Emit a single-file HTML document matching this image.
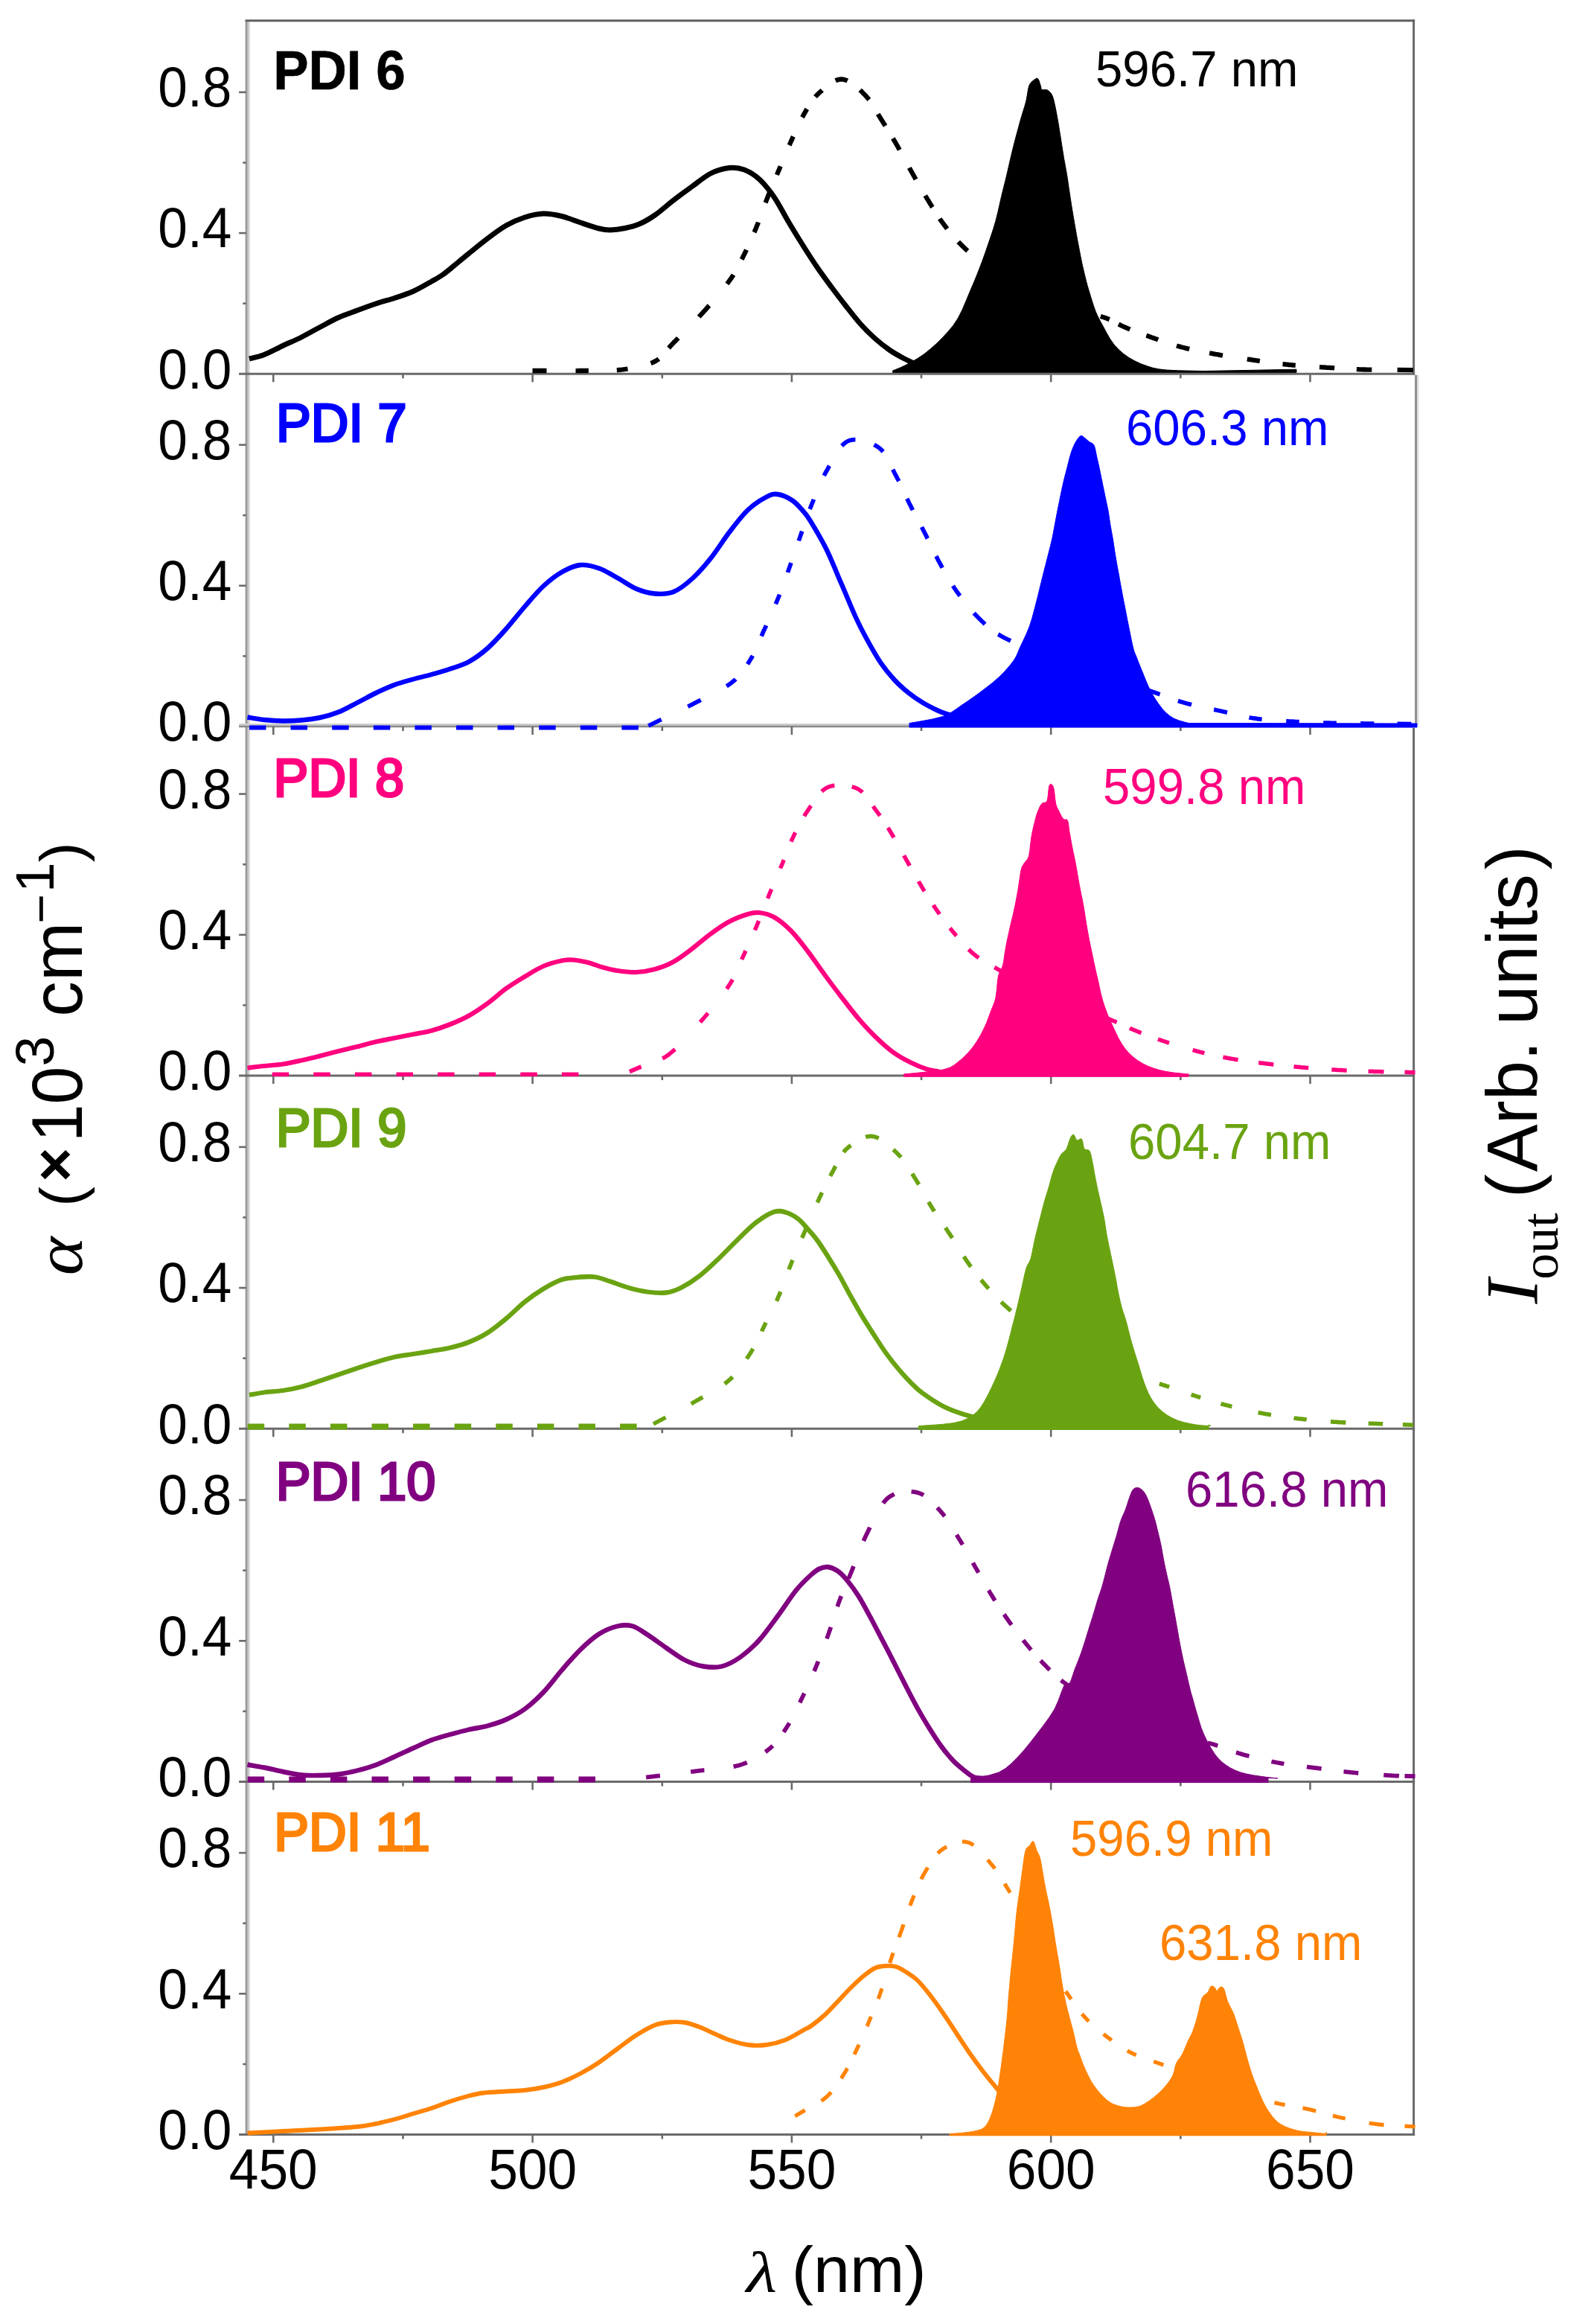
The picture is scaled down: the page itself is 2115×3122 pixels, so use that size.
<!DOCTYPE html>
<html lang="en"><head><meta charset="utf-8"><title>PDI absorption, PL and ASE spectra</title>
<style>html,body{margin:0;padding:0;background:#fff}svg{display:block}</style></head>
<body>
<svg width="2115" height="3122" viewBox="0 0 2115 3122" role="img" aria-label="Absorption, photoluminescence and ASE spectra of PDI 6 to PDI 11">
<rect width="2115" height="3122" fill="#fff"/>
<g fill="none">
<line x1="331.2" y1="27.8" x2="331.2" y2="2866.5" stroke="#9b9b9b" stroke-width="3.2"/>
<line x1="334.1" y1="27.8" x2="334.1" y2="2866.5" stroke="#cbcbcb" stroke-width="2.8"/>
<line x1="1899.6" y1="26.3" x2="1899.6" y2="503.7" stroke="#6a6a6a" stroke-width="3"/>
<line x1="1902.6" y1="503.7" x2="1902.6" y2="974.0" stroke="#8e8e8e" stroke-width="3"/>
<line x1="1905.2" y1="503.7" x2="1905.2" y2="974.0" stroke="#dcdcdc" stroke-width="2.4"/>
<line x1="1899.6" y1="978.0" x2="1899.6" y2="2869.0" stroke="#6a6a6a" stroke-width="3"/>
<line x1="329.6" y1="27.8" x2="1901.1" y2="27.8" stroke="#606060" stroke-width="3"/>
<line x1="321.1" y1="502.3" x2="1901.1" y2="502.3" stroke="#6a6a6a" stroke-width="3"/>
<line x1="367.3" y1="502.3" x2="367.3" y2="513.3" stroke="#6a6a6a" stroke-width="2.6"/>
<line x1="541.5" y1="502.3" x2="541.5" y2="508.3" stroke="#6a6a6a" stroke-width="2.6"/>
<line x1="715.6" y1="502.3" x2="715.6" y2="513.3" stroke="#6a6a6a" stroke-width="2.6"/>
<line x1="889.8" y1="502.3" x2="889.8" y2="508.3" stroke="#6a6a6a" stroke-width="2.6"/>
<line x1="1063.9" y1="502.3" x2="1063.9" y2="513.3" stroke="#6a6a6a" stroke-width="2.6"/>
<line x1="1238.0" y1="502.3" x2="1238.0" y2="508.3" stroke="#6a6a6a" stroke-width="2.6"/>
<line x1="1412.2" y1="502.3" x2="1412.2" y2="513.3" stroke="#6a6a6a" stroke-width="2.6"/>
<line x1="1586.3" y1="502.3" x2="1586.3" y2="508.3" stroke="#6a6a6a" stroke-width="2.6"/>
<line x1="1760.5" y1="502.3" x2="1760.5" y2="513.3" stroke="#6a6a6a" stroke-width="2.6"/>
<line x1="321.1" y1="973.4" x2="1901.1" y2="973.4" stroke="#cdcdcd" stroke-width="3"/>
<line x1="321.1" y1="976.0" x2="1901.1" y2="976.0" stroke="#8a8a8a" stroke-width="2.6"/>
<line x1="367.3" y1="976.0" x2="367.3" y2="987.0" stroke="#6a6a6a" stroke-width="2.6"/>
<line x1="541.5" y1="976.0" x2="541.5" y2="982.0" stroke="#6a6a6a" stroke-width="2.6"/>
<line x1="715.6" y1="976.0" x2="715.6" y2="987.0" stroke="#6a6a6a" stroke-width="2.6"/>
<line x1="889.8" y1="976.0" x2="889.8" y2="982.0" stroke="#6a6a6a" stroke-width="2.6"/>
<line x1="1063.9" y1="976.0" x2="1063.9" y2="987.0" stroke="#6a6a6a" stroke-width="2.6"/>
<line x1="1238.0" y1="976.0" x2="1238.0" y2="982.0" stroke="#6a6a6a" stroke-width="2.6"/>
<line x1="1412.2" y1="976.0" x2="1412.2" y2="987.0" stroke="#6a6a6a" stroke-width="2.6"/>
<line x1="1586.3" y1="976.0" x2="1586.3" y2="982.0" stroke="#6a6a6a" stroke-width="2.6"/>
<line x1="1760.5" y1="976.0" x2="1760.5" y2="987.0" stroke="#6a6a6a" stroke-width="2.6"/>
<line x1="321.1" y1="1445.0" x2="1901.1" y2="1445.0" stroke="#6a6a6a" stroke-width="3"/>
<line x1="367.3" y1="1445.0" x2="367.3" y2="1456.0" stroke="#6a6a6a" stroke-width="2.6"/>
<line x1="541.5" y1="1445.0" x2="541.5" y2="1451.0" stroke="#6a6a6a" stroke-width="2.6"/>
<line x1="715.6" y1="1445.0" x2="715.6" y2="1456.0" stroke="#6a6a6a" stroke-width="2.6"/>
<line x1="889.8" y1="1445.0" x2="889.8" y2="1451.0" stroke="#6a6a6a" stroke-width="2.6"/>
<line x1="1063.9" y1="1445.0" x2="1063.9" y2="1456.0" stroke="#6a6a6a" stroke-width="2.6"/>
<line x1="1238.0" y1="1445.0" x2="1238.0" y2="1451.0" stroke="#6a6a6a" stroke-width="2.6"/>
<line x1="1412.2" y1="1445.0" x2="1412.2" y2="1456.0" stroke="#6a6a6a" stroke-width="2.6"/>
<line x1="1586.3" y1="1445.0" x2="1586.3" y2="1451.0" stroke="#6a6a6a" stroke-width="2.6"/>
<line x1="1760.5" y1="1445.0" x2="1760.5" y2="1456.0" stroke="#6a6a6a" stroke-width="2.6"/>
<line x1="321.1" y1="1919.3" x2="1901.1" y2="1919.3" stroke="#6a6a6a" stroke-width="3"/>
<line x1="367.3" y1="1919.3" x2="367.3" y2="1930.3" stroke="#6a6a6a" stroke-width="2.6"/>
<line x1="541.5" y1="1919.3" x2="541.5" y2="1925.3" stroke="#6a6a6a" stroke-width="2.6"/>
<line x1="715.6" y1="1919.3" x2="715.6" y2="1930.3" stroke="#6a6a6a" stroke-width="2.6"/>
<line x1="889.8" y1="1919.3" x2="889.8" y2="1925.3" stroke="#6a6a6a" stroke-width="2.6"/>
<line x1="1063.9" y1="1919.3" x2="1063.9" y2="1930.3" stroke="#6a6a6a" stroke-width="2.6"/>
<line x1="1238.0" y1="1919.3" x2="1238.0" y2="1925.3" stroke="#6a6a6a" stroke-width="2.6"/>
<line x1="1412.2" y1="1919.3" x2="1412.2" y2="1930.3" stroke="#6a6a6a" stroke-width="2.6"/>
<line x1="1586.3" y1="1919.3" x2="1586.3" y2="1925.3" stroke="#6a6a6a" stroke-width="2.6"/>
<line x1="1760.5" y1="1919.3" x2="1760.5" y2="1930.3" stroke="#6a6a6a" stroke-width="2.6"/>
<line x1="321.1" y1="2393.5" x2="1901.1" y2="2393.5" stroke="#6a6a6a" stroke-width="3"/>
<line x1="367.3" y1="2393.5" x2="367.3" y2="2404.5" stroke="#6a6a6a" stroke-width="2.6"/>
<line x1="541.5" y1="2393.5" x2="541.5" y2="2399.5" stroke="#6a6a6a" stroke-width="2.6"/>
<line x1="715.6" y1="2393.5" x2="715.6" y2="2404.5" stroke="#6a6a6a" stroke-width="2.6"/>
<line x1="889.8" y1="2393.5" x2="889.8" y2="2399.5" stroke="#6a6a6a" stroke-width="2.6"/>
<line x1="1063.9" y1="2393.5" x2="1063.9" y2="2404.5" stroke="#6a6a6a" stroke-width="2.6"/>
<line x1="1238.0" y1="2393.5" x2="1238.0" y2="2399.5" stroke="#6a6a6a" stroke-width="2.6"/>
<line x1="1412.2" y1="2393.5" x2="1412.2" y2="2404.5" stroke="#6a6a6a" stroke-width="2.6"/>
<line x1="1586.3" y1="2393.5" x2="1586.3" y2="2399.5" stroke="#6a6a6a" stroke-width="2.6"/>
<line x1="1760.5" y1="2393.5" x2="1760.5" y2="2404.5" stroke="#6a6a6a" stroke-width="2.6"/>
<line x1="321.1" y1="2867.5" x2="1901.1" y2="2867.5" stroke="#6a6a6a" stroke-width="3"/>
<line x1="367.3" y1="2867.5" x2="367.3" y2="2878.5" stroke="#6a6a6a" stroke-width="2.6"/>
<line x1="541.5" y1="2867.5" x2="541.5" y2="2873.5" stroke="#6a6a6a" stroke-width="2.6"/>
<line x1="715.6" y1="2867.5" x2="715.6" y2="2878.5" stroke="#6a6a6a" stroke-width="2.6"/>
<line x1="889.8" y1="2867.5" x2="889.8" y2="2873.5" stroke="#6a6a6a" stroke-width="2.6"/>
<line x1="1063.9" y1="2867.5" x2="1063.9" y2="2878.5" stroke="#6a6a6a" stroke-width="2.6"/>
<line x1="1238.0" y1="2867.5" x2="1238.0" y2="2873.5" stroke="#6a6a6a" stroke-width="2.6"/>
<line x1="1412.2" y1="2867.5" x2="1412.2" y2="2878.5" stroke="#6a6a6a" stroke-width="2.6"/>
<line x1="1586.3" y1="2867.5" x2="1586.3" y2="2873.5" stroke="#6a6a6a" stroke-width="2.6"/>
<line x1="1760.5" y1="2867.5" x2="1760.5" y2="2878.5" stroke="#6a6a6a" stroke-width="2.6"/>
<line x1="326.3" y1="407.7" x2="330.6" y2="407.7" stroke="#6a6a6a" stroke-width="2.6"/>
<line x1="321.1" y1="313.1" x2="330.6" y2="313.1" stroke="#6a6a6a" stroke-width="2.6"/>
<line x1="326.3" y1="218.5" x2="330.6" y2="218.5" stroke="#6a6a6a" stroke-width="2.6"/>
<line x1="321.1" y1="123.9" x2="330.6" y2="123.9" stroke="#6a6a6a" stroke-width="2.6"/>
<line x1="326.3" y1="881.4" x2="330.6" y2="881.4" stroke="#6a6a6a" stroke-width="2.6"/>
<line x1="321.1" y1="786.8" x2="330.6" y2="786.8" stroke="#6a6a6a" stroke-width="2.6"/>
<line x1="326.3" y1="692.2" x2="330.6" y2="692.2" stroke="#6a6a6a" stroke-width="2.6"/>
<line x1="321.1" y1="597.6" x2="330.6" y2="597.6" stroke="#6a6a6a" stroke-width="2.6"/>
<line x1="326.3" y1="1350.4" x2="330.6" y2="1350.4" stroke="#6a6a6a" stroke-width="2.6"/>
<line x1="321.1" y1="1255.8" x2="330.6" y2="1255.8" stroke="#6a6a6a" stroke-width="2.6"/>
<line x1="326.3" y1="1161.2" x2="330.6" y2="1161.2" stroke="#6a6a6a" stroke-width="2.6"/>
<line x1="321.1" y1="1066.6" x2="330.6" y2="1066.6" stroke="#6a6a6a" stroke-width="2.6"/>
<line x1="326.3" y1="1824.7" x2="330.6" y2="1824.7" stroke="#6a6a6a" stroke-width="2.6"/>
<line x1="321.1" y1="1730.1" x2="330.6" y2="1730.1" stroke="#6a6a6a" stroke-width="2.6"/>
<line x1="326.3" y1="1635.5" x2="330.6" y2="1635.5" stroke="#6a6a6a" stroke-width="2.6"/>
<line x1="321.1" y1="1540.9" x2="330.6" y2="1540.9" stroke="#6a6a6a" stroke-width="2.6"/>
<line x1="326.3" y1="2298.9" x2="330.6" y2="2298.9" stroke="#6a6a6a" stroke-width="2.6"/>
<line x1="321.1" y1="2204.3" x2="330.6" y2="2204.3" stroke="#6a6a6a" stroke-width="2.6"/>
<line x1="326.3" y1="2109.7" x2="330.6" y2="2109.7" stroke="#6a6a6a" stroke-width="2.6"/>
<line x1="321.1" y1="2015.1" x2="330.6" y2="2015.1" stroke="#6a6a6a" stroke-width="2.6"/>
<line x1="326.3" y1="2772.9" x2="330.6" y2="2772.9" stroke="#6a6a6a" stroke-width="2.6"/>
<line x1="321.1" y1="2678.3" x2="330.6" y2="2678.3" stroke="#6a6a6a" stroke-width="2.6"/>
<line x1="326.3" y1="2583.7" x2="330.6" y2="2583.7" stroke="#6a6a6a" stroke-width="2.6"/>
<line x1="321.1" y1="2489.1" x2="330.6" y2="2489.1" stroke="#6a6a6a" stroke-width="2.6"/>
</g>
<path d="M335.0 482.0C338.3 481.1 347.5 479.4 355.0 476.5C362.5 473.6 371.7 468.4 380.0 464.5C388.3 460.6 396.7 457.2 405.0 453.0C413.3 448.8 421.7 443.9 430.0 439.5C438.3 435.1 446.7 430.2 455.0 426.5C463.3 422.8 471.7 420.1 480.0 417.0C488.3 413.9 496.7 410.8 505.0 408.0C513.3 405.2 521.7 403.2 530.0 400.5C538.3 397.8 546.7 395.2 555.0 391.5C563.3 387.8 573.3 381.8 580.0 378.0C586.7 374.2 590.0 372.5 595.0 369.0C600.0 365.5 604.2 361.8 610.0 357.0C615.8 352.2 622.5 346.6 630.0 340.5C637.5 334.4 646.7 326.8 655.0 320.5C663.3 314.2 671.7 307.8 680.0 303.0C688.3 298.2 696.7 294.7 705.0 292.0C713.3 289.3 721.7 287.2 730.0 287.0C738.3 286.8 746.7 288.5 755.0 290.5C763.3 292.5 771.7 296.2 780.0 299.0C788.3 301.8 798.3 305.3 805.0 307.0C811.7 308.7 814.2 309.1 820.0 309.0C825.8 308.9 833.3 307.9 840.0 306.5C846.7 305.1 853.3 303.4 860.0 300.5C866.7 297.6 872.5 294.2 880.0 289.0C887.5 283.8 896.7 275.4 905.0 269.0C913.3 262.6 921.7 256.5 930.0 250.5C938.3 244.5 946.7 237.2 955.0 233.0C963.3 228.8 972.5 226.3 980.0 225.5C987.5 224.7 993.3 225.5 1000.0 228.0C1006.7 230.5 1013.3 234.4 1020.0 240.5C1026.7 246.6 1033.4 254.9 1040.0 264.5C1046.6 274.1 1053.1 287.2 1059.5 298.0C1065.9 308.8 1072.1 318.8 1078.5 329.0C1084.9 339.2 1091.5 349.5 1098.0 359.0C1104.5 368.5 1111.0 377.2 1117.5 386.0C1124.0 394.8 1130.6 403.3 1137.0 411.5C1143.4 419.7 1149.6 427.8 1156.0 435.0C1162.4 442.2 1169.0 448.7 1175.5 454.5C1182.0 460.3 1188.5 465.5 1195.0 470.0C1201.5 474.5 1207.5 477.8 1214.5 481.5C1221.5 485.2 1233.2 490.2 1237.0 492.0" fill="none" stroke="#000000" stroke-width="7.0" stroke-linecap="butt" stroke-linejoin="round"/>
<path d="M715.5 498.0L734.5 498.0M773.5 498.1L775.1 498.1L776.6 498.1L778.2 498.0L779.6 498.0L781.1 498.0L782.5 498.0L783.9 498.0L785.3 498.0L786.7 498.0L788.1 498.0L789.5 497.9L790.9 497.9M828.8 497.3L830.0 497.2L831.3 497.0L832.5 496.9L833.8 496.8L835.0 496.7L836.2 496.5L837.5 496.3L838.7 496.2L839.9 496.0L841.1 495.8L842.3 495.7L843.5 495.5M874.5 488.0L875.5 487.6L876.4 487.2L877.3 486.8L878.2 486.4L879.1 485.9L880.0 485.5L880.8 485.0L881.7 484.6L882.4 484.1L883.2 483.6L883.9 483.2L884.6 482.7L885.3 482.2M898.6 467.6L899.3 466.8L899.9 466.1L900.5 465.3L901.2 464.6L901.9 463.8L902.7 463.0L903.4 462.2L904.2 461.3L905.0 460.5L905.8 459.6L906.7 458.8L907.6 457.9L908.5 457.0L909.4 456.0L910.4 455.1L911.3 454.1M939.2 425.7L940.2 424.5L941.3 423.4L942.3 422.3L943.3 421.2L944.3 420.1L945.3 419.1L946.2 418.0L947.2 416.9L948.2 415.9L949.1 414.8L950.1 413.7L951.0 412.6L952.0 411.5L953.0 410.5M976.9 381.4L977.7 380.4L978.4 379.4L979.2 378.4L979.9 377.4L980.6 376.5L981.2 375.5L981.9 374.6L982.6 373.6L983.2 372.7L983.8 371.8L984.4 370.9L985.0 370.0L985.5 369.1M996.7 348.5L997.1 347.7L997.5 346.9L997.9 346.0L998.3 345.2L998.7 344.3L999.1 343.5L999.6 342.6L1000.0 341.8L1000.4 340.9L1000.9 340.0L1001.3 339.1L1001.7 338.2L1002.2 337.4L1002.6 336.5L1003.0 335.6M1013.5 312.1L1013.9 311.2L1014.3 310.2L1014.7 309.3L1015.1 308.3L1015.5 307.4L1015.9 306.5L1016.2 305.5L1016.6 304.5L1017.0 303.6L1017.4 302.6L1017.8 301.6L1018.2 300.7L1018.6 299.7L1018.9 298.7M1028.6 272.3L1029.0 271.3L1029.4 270.3L1029.8 269.4L1030.1 268.4L1030.5 267.4L1030.9 266.5L1031.2 265.5L1031.6 264.6L1032.0 263.6L1032.4 262.7L1032.7 261.7L1033.1 260.8L1033.5 259.9L1033.8 259.0M1043.9 234.9L1044.3 233.9L1044.7 233.0L1045.1 232.1L1045.5 231.1L1045.9 230.2L1046.2 229.2L1046.7 228.3L1047.1 227.3L1047.5 226.4L1047.9 225.4L1048.3 224.4L1048.7 223.4M1060.6 195.2L1061.1 194.2L1061.5 193.2L1061.9 192.2L1062.4 191.2L1062.8 190.2L1063.2 189.2L1063.7 188.3L1064.1 187.3L1064.6 186.3L1065.0 185.3L1065.4 184.4L1065.9 183.4M1078.0 157.6L1078.5 156.7L1079.0 155.9L1079.4 155.0L1079.9 154.2L1080.3 153.4L1080.8 152.6L1081.2 151.8L1081.7 151.0L1082.2 150.2L1082.6 149.4L1083.0 148.6L1083.5 147.9L1083.9 147.1L1084.3 146.4M1095.5 130.1L1096.0 129.5L1096.5 128.9L1097.1 128.4L1097.6 127.8L1098.2 127.2L1098.8 126.6L1099.4 126.1L1100.0 125.5L1100.6 124.9L1101.3 124.3L1101.9 123.7L1102.6 123.1L1103.3 122.5L1104.0 121.9L1104.7 121.2M1122.7 108.3L1123.6 107.9L1124.4 107.6L1125.2 107.4L1126.0 107.1L1126.8 106.9L1127.6 106.8L1128.4 106.6L1129.2 106.5L1130.0 106.5L1130.8 106.5L1131.5 106.5L1132.3 106.6L1133.1 106.7L1133.9 106.9L1134.7 107.1L1135.5 107.3L1136.3 107.6L1137.1 107.9L1137.9 108.2L1138.7 108.6M1155.6 120.9L1156.3 121.6L1157.0 122.3L1157.8 123.1L1158.5 123.8L1159.2 124.5L1159.9 125.2L1160.6 125.9L1161.3 126.6L1162.0 127.2L1162.7 127.9L1163.3 128.6L1164.0 129.4L1164.6 130.1L1165.2 130.9L1165.9 131.6L1166.5 132.4L1167.1 133.2L1167.7 134.0M1179.8 153.2L1180.3 154.1L1180.8 155.0L1181.3 155.9L1181.9 156.7L1182.4 157.6L1182.9 158.5L1183.4 159.3L1184.0 160.2L1184.5 161.0L1185.0 161.8L1185.6 162.7L1186.1 163.5L1186.6 164.3L1187.1 165.1L1187.6 165.9L1188.1 166.7L1188.6 167.5L1189.1 168.3L1189.6 169.1M1199.9 185.9L1200.4 186.8L1200.9 187.6L1201.4 188.5L1201.9 189.3L1202.4 190.2L1203.0 191.1L1203.5 192.0L1204.0 192.9L1204.5 193.8L1205.0 194.7L1205.5 195.6L1206.1 196.5L1206.6 197.4L1207.1 198.4L1207.7 199.3L1208.2 200.3L1208.7 201.3M1221.9 225.4L1222.4 226.4L1223.0 227.4L1223.5 228.4L1224.1 229.4L1224.6 230.3L1225.2 231.3L1225.7 232.3L1226.2 233.2L1226.8 234.2L1227.3 235.2L1227.9 236.1L1228.4 237.1L1229.0 238.1L1229.5 239.0L1230.1 240.0L1230.6 241.0M1243.3 262.7L1243.8 263.6L1244.3 264.4L1244.9 265.3L1245.4 266.2L1245.9 267.1L1246.4 267.9L1247.0 268.8L1247.5 269.7L1248.0 270.5L1248.5 271.3L1249.0 272.2L1249.5 273.0L1250.0 273.8L1250.5 274.6L1251.0 275.4L1251.5 276.2L1251.9 277.0L1252.4 277.7L1252.9 278.5M1262.7 293.8L1263.2 294.6L1263.7 295.3L1264.2 296.0L1264.7 296.8L1265.3 297.5L1265.8 298.2L1266.4 299.0L1266.9 299.7L1267.5 300.5L1268.1 301.3L1268.7 302.0L1269.2 302.8L1269.8 303.5L1270.4 304.3L1271.0 305.0L1271.5 305.8L1272.1 306.5L1272.7 307.3M1287.7 324.9L1288.4 325.7L1289.2 326.4L1290.0 327.2L1290.8 328.0L1291.5 328.8L1292.4 329.6L1293.2 330.4L1294.0 331.2L1294.8 332.1L1295.7 332.9L1296.6 333.7L1297.5 334.6L1298.4 335.4L1299.3 336.3L1300.2 337.1M1327.1 359.9L1328.2 360.7L1329.2 361.5L1330.3 362.3L1331.4 363.1L1332.4 363.9L1333.5 364.7L1334.5 365.5L1335.5 366.3L1336.6 367.0L1337.6 367.8L1338.6 368.6L1339.7 369.3L1340.7 370.1L1341.7 370.8M1368.0 388.2L1369.1 388.9L1370.2 389.5L1371.3 390.1L1372.4 390.7L1373.6 391.3L1374.7 391.9L1375.8 392.4L1377.0 393.0L1378.2 393.6L1379.3 394.1L1380.5 394.6L1381.7 395.2L1382.8 395.7L1384.0 396.2L1385.2 396.7L1386.4 397.2M1417.7 407.6L1419.0 408.0L1420.3 408.4L1421.7 408.8L1423.0 409.3L1424.3 409.7L1425.7 410.1L1427.0 410.5L1428.4 410.9L1429.7 411.3L1431.2 411.8L1432.6 412.2L1434.0 412.6L1435.5 413.0M1478.8 424.9L1480.0 425.3L1481.2 425.7L1482.3 426.0L1483.4 426.4L1484.5 426.8L1485.5 427.1L1486.5 427.5L1487.4 427.8L1488.3 428.1L1489.2 428.5L1490.0 428.8L1490.8 429.1M1503.0 435.5L1503.6 435.8L1504.1 436.1L1504.7 436.4L1505.3 436.7L1505.9 437.0L1506.5 437.3L1507.1 437.6L1507.8 437.9L1508.5 438.3L1509.2 438.6L1510.0 438.9L1510.8 439.2L1511.6 439.6L1512.4 439.9L1513.2 440.3L1514.0 440.6L1514.9 441.0L1515.7 441.3L1516.6 441.7L1517.5 442.0L1518.4 442.4M1540.3 450.7L1541.3 451.0L1542.3 451.4L1543.3 451.8L1544.3 452.1L1545.3 452.5L1546.3 452.8L1547.3 453.2L1548.2 453.5L1549.2 453.8L1550.2 454.2L1551.2 454.5L1552.2 454.9L1553.2 455.2L1554.2 455.6L1555.2 455.9L1556.2 456.3M1581.0 464.4L1582.0 464.7L1583.1 465.0L1584.1 465.3L1585.2 465.6L1586.3 465.9L1587.3 466.2L1588.4 466.5L1589.5 466.8L1590.6 467.0L1591.7 467.3L1592.7 467.6L1593.8 467.8L1594.9 468.1L1596.0 468.4L1597.1 468.6L1598.2 468.9M1625.1 474.3L1626.3 474.5L1627.4 474.7L1628.6 474.9L1629.8 475.2L1631.0 475.4L1632.1 475.6L1633.3 475.8L1634.5 476.0L1635.7 476.2L1636.9 476.4L1638.1 476.6L1639.3 476.8L1640.5 477.1L1641.8 477.3L1643.0 477.5M1675.8 482.5L1677.1 482.7L1678.3 482.9L1679.6 483.0L1680.8 483.2L1682.1 483.4L1683.3 483.6L1684.5 483.8L1685.7 483.9L1686.9 484.1L1688.1 484.3L1689.3 484.4L1690.5 484.6L1691.7 484.8L1692.9 485.0M1723.5 489.1L1724.7 489.2L1725.9 489.3L1727.1 489.5L1728.3 489.6L1729.5 489.7L1730.8 489.9L1732.0 490.0L1733.2 490.1L1734.5 490.2L1735.7 490.4L1737.0 490.5L1738.2 490.6L1739.5 490.7L1740.8 490.8M1773.0 493.1L1774.3 493.2L1775.6 493.3L1776.9 493.3L1778.2 493.4L1779.4 493.5L1780.7 493.6L1782.0 493.7L1783.2 493.8L1784.5 493.8L1785.8 493.9L1787.0 494.0L1788.3 494.1L1789.5 494.2L1790.8 494.2L1792.0 494.3L1793.2 494.4M1822.9 496.1L1824.2 496.2L1825.5 496.2L1826.8 496.3L1828.1 496.3L1829.3 496.4L1830.6 496.4L1831.9 496.5L1833.2 496.5L1834.6 496.5L1836.0 496.6L1837.4 496.6L1838.8 496.6L1840.3 496.7L1841.8 496.7L1843.3 496.7M1877.6 496.9L1898.9 497.1" fill="none" stroke="#000000" stroke-width="6.3"/>
<path d="M1199.5 500.3L1199.5 498.0L1203.8 496.3L1210.0 493.8L1217.0 490.5L1224.8 486.3L1233.4 481.3L1242.0 475.5L1250.5 468.6L1259.0 461.0L1267.0 453.0L1274.1 445.3L1280.7 437.4L1287.0 428.0L1293.1 416.0L1298.8 402.5L1304.0 390.0L1308.4 379.8L1312.2 370.6L1316.0 361.0L1319.9 350.6L1323.8 339.8L1327.5 329.0L1331.2 318.2L1334.8 307.3L1338.0 296.5L1340.7 285.8L1343.1 275.2L1345.5 264.5L1348.2 253.5L1351.0 242.4L1353.5 232.0L1355.6 222.8L1357.5 214.4L1359.5 206.0L1361.6 197.4L1363.8 188.8L1366.0 180.5L1368.2 172.5L1370.3 164.6L1372.5 157.0L1374.8 149.4L1377.1 142.1L1379.0 135.0L1380.3 128.0L1381.3 121.4L1382.5 116.0L1384.1 112.5L1386.0 110.2L1388.0 108.5L1390.2 106.7L1392.5 105.3L1394.5 105.5L1396.1 108.2L1397.4 112.4L1398.5 116.0L1399.0 118.1L1399.1 119.5L1400.0 120.5L1402.1 120.7L1404.9 120.5L1407.5 121.0L1409.8 122.7L1412.1 125.1L1414.0 128.5L1415.5 133.0L1416.8 138.3L1418.0 144.0L1419.2 149.7L1420.3 155.8L1421.5 162.5L1422.8 170.2L1424.1 178.5L1425.5 187.0L1426.8 195.6L1428.2 204.2L1429.5 212.5L1430.9 220.0L1432.2 227.2L1433.5 234.5L1434.7 242.1L1435.8 250.0L1437.0 258.0L1438.3 266.4L1439.6 275.1L1441.0 283.5L1442.3 291.5L1443.7 299.4L1445.0 307.0L1446.3 314.4L1447.6 321.6L1449.0 329.0L1450.5 336.7L1452.0 344.6L1453.5 352.0L1455.0 358.8L1456.5 365.2L1458.0 371.5L1459.5 377.4L1461.0 383.2L1463.0 390.0L1465.7 398.9L1468.8 408.9L1472.0 418.0L1475.1 425.1L1478.3 431.3L1482.0 438.0L1486.4 446.2L1491.4 455.0L1497.0 463.0L1503.1 469.6L1509.8 475.4L1517.0 480.5L1525.0 485.0L1533.5 488.9L1542.0 492.0L1549.4 494.3L1556.8 495.8L1567.0 497.0L1583.7 497.8L1603.1 498.2L1617.0 498.5L1742.0 496.2 L1742.0 500.3 Z" fill="#000000" stroke="#000000" stroke-width="1" stroke-linejoin="round"/>
<path d="M332.5 963.5C336.2 964.1 347.1 966.2 355.0 967.0C362.9 967.8 371.7 968.4 380.0 968.5C388.3 968.6 396.7 968.2 405.0 967.5C413.3 966.8 421.7 965.8 430.0 964.0C438.3 962.2 446.7 959.8 455.0 956.5C463.3 953.2 471.7 948.2 480.0 944.0C488.3 939.8 496.7 935.0 505.0 931.0C513.3 927.0 521.7 923.1 530.0 920.0C538.3 916.9 546.7 914.8 555.0 912.5C563.3 910.2 571.7 908.3 580.0 906.0C588.3 903.7 596.7 901.3 605.0 898.5C613.3 895.7 621.7 893.6 630.0 889.0C638.3 884.4 646.7 878.3 655.0 871.0C663.3 863.7 671.7 854.3 680.0 845.0C688.3 835.7 696.7 824.6 705.0 815.0C713.3 805.4 721.7 795.2 730.0 787.5C738.3 779.8 746.7 773.2 755.0 768.5C763.3 763.8 771.7 759.8 780.0 759.0C788.3 758.2 796.7 760.6 805.0 763.5C813.3 766.4 821.7 771.9 830.0 776.5C838.3 781.1 846.7 787.5 855.0 791.0C863.3 794.5 871.7 796.8 880.0 797.5C888.3 798.2 896.7 798.3 905.0 795.0C913.3 791.7 921.7 785.0 930.0 777.5C938.3 770.0 946.7 760.4 955.0 750.0C963.3 739.6 971.7 725.8 980.0 715.0C988.3 704.2 996.7 692.9 1005.0 685.0C1013.3 677.1 1023.3 671.0 1030.0 667.5C1036.7 664.0 1039.2 663.2 1045.0 664.0C1050.8 664.8 1059.2 668.6 1065.0 672.5C1070.8 676.4 1076.0 682.9 1080.0 687.5C1084.0 692.1 1083.9 691.6 1089.0 700.0C1094.1 708.4 1103.6 724.0 1110.5 738.0C1117.4 752.0 1123.9 768.8 1130.5 784.0C1137.1 799.2 1144.2 816.8 1150.0 829.5C1155.8 842.2 1159.9 849.8 1165.5 860.0C1171.1 870.2 1177.4 881.6 1183.5 890.5C1189.6 899.4 1195.8 906.8 1202.0 913.5C1208.2 920.2 1214.2 925.4 1220.5 930.5C1226.8 935.6 1233.4 940.0 1240.0 944.0C1246.6 948.0 1254.7 952.0 1260.0 954.5C1265.3 957.0 1267.9 957.7 1272.0 959.0C1276.1 960.3 1282.4 961.9 1284.5 962.5" fill="none" stroke="#0000ff" stroke-width="6.4" stroke-linecap="butt" stroke-linejoin="round"/>
<path d="M871.3 975.0L888.7 966.5M924.3 949.2L925.7 948.5L927.1 947.8L928.5 947.1L929.9 946.4L931.2 945.7L932.5 945.0L933.8 944.3L935.1 943.7L936.4 943.0L937.7 942.3L939.0 941.7L940.4 941.0L941.7 940.3M976.3 921.8L977.4 921.1L978.5 920.4L979.5 919.7L980.6 919.0L981.5 918.2L982.5 917.5L983.4 916.8L984.3 916.0L985.2 915.3L986.1 914.6L986.9 913.8L987.8 913.1L988.5 912.3M1004.5 892.2L1005.0 891.4L1005.6 890.5L1006.1 889.7L1006.6 888.8L1007.2 888.0L1007.7 887.1L1008.2 886.2L1008.8 885.4L1009.3 884.5L1009.8 883.6L1010.4 882.7L1010.9 881.8L1011.4 880.9M1023.2 854.6L1023.6 853.6L1024.0 852.6L1024.5 851.6L1024.9 850.5L1025.3 849.5L1025.8 848.5L1026.2 847.5L1026.7 846.5L1027.2 845.5L1027.6 844.4L1028.1 843.4L1028.6 842.4L1029.1 841.3L1029.5 840.3M1042.3 811.4L1042.8 810.3L1043.2 809.3L1043.7 808.2L1044.1 807.1L1044.6 806.1L1045.0 805.0L1045.4 803.9L1045.9 802.9L1046.3 801.8L1046.7 800.8L1047.1 799.7L1047.5 798.6M1058.5 768.9L1058.8 767.8L1059.2 766.8L1059.6 765.7L1060.0 764.6L1060.4 763.6L1060.8 762.5L1061.1 761.4L1061.5 760.4L1061.9 759.3L1062.3 758.2L1062.6 757.2L1063.0 756.1M1073.3 726.4L1073.6 725.3L1074.0 724.2L1074.4 723.2L1074.8 722.1L1075.1 721.1L1075.5 720.0L1075.9 718.9L1076.2 717.9L1076.6 716.8L1077.0 715.8L1077.3 714.7L1077.7 713.6M1088.2 684.0L1088.6 682.9L1089.0 681.9L1089.5 680.8L1089.9 679.7L1090.3 678.6L1090.8 677.5L1091.2 676.4L1091.6 675.3L1092.1 674.2L1092.5 673.1L1093.0 672.0L1093.4 670.8M1107.2 639.0L1107.8 637.9L1108.4 636.8L1109.0 635.7L1109.5 634.6L1110.1 633.6L1110.8 632.5L1111.4 631.4L1112.0 630.3L1112.6 629.2L1113.2 628.1L1113.8 626.9L1114.5 625.8M1131.2 599.0L1132.0 598.1L1132.8 597.3L1133.6 596.5L1134.4 595.8L1135.2 595.1L1136.1 594.5L1136.9 593.9L1137.8 593.4L1138.6 592.9L1139.5 592.5L1140.4 592.1L1141.3 591.8L1142.2 591.5L1143.2 591.3L1144.2 591.1L1145.2 590.9L1146.2 590.8L1147.2 590.7L1148.3 590.6L1149.4 590.6M1174.5 597.4L1175.4 597.9L1176.4 598.4L1177.3 599.0L1178.2 599.5L1179.1 600.1L1179.9 600.7L1180.8 601.2L1181.5 601.8L1182.3 602.5L1183.1 603.1L1183.8 603.8L1184.5 604.6L1185.2 605.3L1185.9 606.1L1186.6 606.9M1199.7 630.7L1200.2 631.7L1200.7 632.8L1201.2 633.8L1201.7 634.8L1202.2 635.8L1202.7 636.8L1203.2 637.8L1203.8 638.8L1204.3 639.7L1204.8 640.7L1205.3 641.6L1205.8 642.6L1206.3 643.5L1206.8 644.5L1207.3 645.5L1207.8 646.4M1218.7 669.8L1219.2 670.7L1219.7 671.7L1220.1 672.7L1220.6 673.6L1221.1 674.6L1221.5 675.6L1222.0 676.5L1222.5 677.5L1223.0 678.5L1223.5 679.4L1224.0 680.4L1224.5 681.3L1224.9 682.3L1225.4 683.3L1225.9 684.2L1226.4 685.2M1238.5 708.0L1239.0 709.0L1239.5 710.0L1240.0 710.9L1240.5 711.9L1241.0 712.9L1241.5 713.8L1242.0 714.8L1242.5 715.8L1243.0 716.7L1243.5 717.7L1244.0 718.7L1244.5 719.6L1244.9 720.6L1245.4 721.6L1245.9 722.6L1246.4 723.5M1257.9 747.2L1258.4 748.1L1258.9 749.1L1259.4 750.1L1259.9 751.1L1260.4 752.1L1260.9 753.0L1261.5 754.0L1262.0 755.0L1262.5 756.0L1263.1 757.0L1263.6 757.9L1264.1 758.9L1264.7 759.9L1265.2 760.9L1265.7 761.8L1266.2 762.8M1280.5 787.0L1281.1 788.0L1281.7 789.0L1282.4 789.9L1283.0 790.9L1283.7 791.8L1284.3 792.8L1285.0 793.8L1285.7 794.7L1286.4 795.7L1287.1 796.6L1287.8 797.6L1288.5 798.6L1289.2 799.6L1289.9 800.5M1308.7 823.6L1309.5 824.5L1310.3 825.4L1311.1 826.3L1312.0 827.1L1312.8 828.0L1313.6 828.8L1314.4 829.6L1315.2 830.5L1316.0 831.2L1316.8 832.0L1317.6 832.8L1318.4 833.6L1319.1 834.3L1319.9 835.0L1320.7 835.8L1321.4 836.5L1322.2 837.2L1322.9 837.9L1323.6 838.6M1341.2 852.1L1342.2 852.6L1343.2 853.2L1344.1 853.8L1345.2 854.4L1346.2 855.0L1347.3 855.6L1348.4 856.2L1349.5 856.8L1350.6 857.3L1351.8 857.9L1353.0 858.5L1354.2 859.1L1355.5 859.6L1356.7 860.2L1358.0 860.8M1397.5 875.3L1399.1 875.9L1400.6 876.4L1402.2 877.0L1403.8 877.6L1405.4 878.2L1407.0 878.8L1408.6 879.3L1410.2 879.9L1411.8 880.5L1413.5 881.1L1415.1 881.7M1468.0 900.5L1469.8 901.2L1471.6 901.8L1473.4 902.5L1475.2 903.1L1477.0 903.8L1478.8 904.4L1480.6 905.0L1482.5 905.7L1484.4 906.4L1486.3 907.1M1543.1 927.3L1544.7 927.9L1546.3 928.4L1547.8 929.0L1549.3 929.5L1550.8 930.0L1552.2 930.5L1553.5 931.0L1554.9 931.5L1556.2 931.9L1557.4 932.4L1558.6 932.8M1582.9 941.5L1583.9 941.8L1584.8 942.1L1585.8 942.4L1586.8 942.7L1587.8 943.0L1588.8 943.3L1589.8 943.6L1590.9 943.9L1592.0 944.2L1593.1 944.6L1594.2 944.9L1595.4 945.2L1596.5 945.5L1597.6 945.8L1598.8 946.1L1599.9 946.3L1601.1 946.6M1631.1 953.2L1632.3 953.4L1633.5 953.7L1634.7 954.0L1635.9 954.2L1637.1 954.5L1638.3 954.7L1639.5 955.0L1640.7 955.3L1641.9 955.5L1643.1 955.8L1644.2 956.1L1645.4 956.3L1646.6 956.6L1647.8 956.9L1649.0 957.2M1678.5 963.8L1679.7 964.1L1680.9 964.3L1682.1 964.5L1683.4 964.7L1684.6 964.9L1685.8 965.1L1687.0 965.2L1688.2 965.4L1689.4 965.6L1690.7 965.8L1691.9 965.9L1693.1 966.1L1694.4 966.2L1695.6 966.3M1728.2 968.7L1729.5 968.8L1730.7 968.9L1732.0 969.0L1733.2 969.0L1734.5 969.1L1735.7 969.2L1737.0 969.2L1738.2 969.3L1739.5 969.4L1740.8 969.5L1742.0 969.5L1743.2 969.6L1744.5 969.7L1745.8 969.7M1778.2 971.0L1779.5 971.0L1780.8 971.1L1782.0 971.1L1783.2 971.1L1784.5 971.2L1785.8 971.2L1787.0 971.2L1788.2 971.3L1789.5 971.3L1790.8 971.3L1792.0 971.4L1793.2 971.4L1794.5 971.4L1795.8 971.5M1828.2 971.9L1829.5 971.9L1830.8 971.9L1832.0 971.9L1833.2 972.0L1834.5 972.0L1835.8 972.0L1837.0 972.0L1838.3 972.0L1839.6 972.0L1840.9 972.0L1842.2 972.1L1843.6 972.1L1845.0 972.1L1846.4 972.1M1877.5 972.4L1896.5 972.6" fill="none" stroke="#0000ff" stroke-width="5.7"/>
<path d="M335.0 977.6 L357.5 977.6M390.6 977.6 L413.1 977.6M446.2 977.6 L468.7 977.6M501.8 977.6 L524.3 977.6M557.4 977.6 L579.9 977.6M613.0 977.6 L635.5 977.6M668.6 977.6 L691.1 977.6M724.2 977.6 L746.7 977.6M779.8 977.6 L802.3 977.6M835.4 977.6 L857.9 977.6" fill="none" stroke="#0000ff" stroke-width="6.0"/>
<path d="M1222.0 977.0L1222.0 971.5L1234.4 969.4L1251.8 966.3L1267.0 962.5L1276.8 958.0L1284.4 952.9L1292.0 947.5L1300.3 941.9L1308.7 936.1L1317.0 930.0L1325.5 923.6L1334.0 916.9L1342.0 910.0L1349.5 902.5L1356.4 894.7L1362.0 887.5L1365.5 881.7L1367.8 876.5L1370.5 870.0L1374.6 861.3L1379.3 851.3L1383.5 841.0L1386.8 830.6L1389.7 819.8L1392.5 809.0L1395.3 797.9L1398.0 786.8L1400.5 776.5L1402.8 767.5L1404.9 759.3L1407.0 751.0L1409.2 742.4L1411.4 733.7L1413.5 725.0L1415.3 716.3L1416.9 707.6L1418.5 699.0L1420.1 690.5L1421.8 682.0L1423.5 673.5L1425.3 664.6L1427.2 655.7L1429.0 647.5L1430.7 640.5L1432.4 634.2L1434.0 628.0L1435.6 621.5L1437.3 615.0L1439.0 609.0L1440.9 603.6L1442.9 598.8L1445.0 594.5L1447.3 590.7L1449.8 587.4L1452.0 585.5L1453.8 585.4L1455.3 586.5L1457.0 588.0L1459.1 589.6L1461.3 591.6L1463.5 593.5L1465.8 594.7L1468.1 595.8L1470.0 598.0L1471.4 602.1L1472.4 607.2L1473.5 612.5L1474.6 617.4L1475.8 622.5L1477.0 628.0L1478.3 634.2L1479.6 640.9L1481.0 647.5L1482.3 654.0L1483.7 660.5L1485.0 667.0L1486.4 673.4L1487.7 679.6L1489.0 686.0L1490.1 692.5L1491.0 699.0L1492.0 705.5L1493.1 711.9L1494.3 718.2L1495.5 725.0L1496.6 732.4L1497.8 740.3L1499.0 748.0L1500.3 755.4L1501.6 762.7L1503.0 770.0L1504.3 777.3L1505.6 784.6L1507.0 792.0L1508.4 799.6L1509.9 807.5L1511.5 815.5L1513.1 823.7L1514.7 832.2L1516.5 841.0L1518.5 851.0L1520.6 861.4L1522.5 870.0L1523.9 874.9L1525.1 878.0L1527.0 882.5L1529.9 890.0L1533.5 898.9L1537.0 907.5L1540.1 915.2L1543.3 922.6L1547.0 930.0L1551.6 937.9L1556.8 945.7L1562.0 952.5L1566.8 957.6L1571.6 961.6L1577.0 965.0L1584.0 967.9L1591.6 970.0L1597.0 971.5L1904.0 972.0 L1904.0 977.0 Z" fill="#0000ff" stroke="#0000ff" stroke-width="1" stroke-linejoin="round"/>
<path d="M332.5 1434.5C336.2 1434.1 347.1 1432.8 355.0 1432.0C362.9 1431.2 371.7 1430.8 380.0 1429.5C388.3 1428.2 396.7 1426.3 405.0 1424.5C413.3 1422.7 421.7 1420.6 430.0 1418.5C438.3 1416.4 446.7 1414.1 455.0 1412.0C463.3 1409.9 471.7 1408.1 480.0 1406.0C488.3 1403.9 496.7 1401.4 505.0 1399.5C513.3 1397.6 521.7 1396.2 530.0 1394.5C538.3 1392.8 546.7 1391.2 555.0 1389.5C563.3 1387.8 571.7 1386.8 580.0 1384.5C588.3 1382.2 596.7 1379.3 605.0 1376.0C613.3 1372.7 621.7 1369.2 630.0 1364.5C638.3 1359.8 646.7 1354.1 655.0 1348.0C663.3 1341.9 671.7 1334.0 680.0 1328.0C688.3 1322.0 696.7 1317.0 705.0 1312.0C713.3 1307.0 721.7 1301.6 730.0 1298.0C738.3 1294.4 748.3 1291.9 755.0 1290.5C761.7 1289.1 764.2 1289.1 770.0 1289.5C775.8 1289.9 783.3 1291.3 790.0 1293.0C796.7 1294.7 803.3 1297.7 810.0 1299.5C816.7 1301.3 822.5 1302.9 830.0 1304.0C837.5 1305.1 846.7 1306.3 855.0 1306.0C863.3 1305.7 871.7 1304.3 880.0 1302.0C888.3 1299.7 896.7 1296.6 905.0 1292.0C913.3 1287.4 921.7 1280.8 930.0 1274.5C938.3 1268.2 946.7 1260.6 955.0 1254.5C963.3 1248.4 971.7 1242.4 980.0 1238.0C988.3 1233.6 998.3 1230.0 1005.0 1228.0C1011.7 1226.0 1014.2 1225.3 1020.0 1226.0C1025.8 1226.7 1032.8 1227.9 1040.0 1232.0C1047.2 1236.1 1055.4 1242.8 1063.0 1250.5C1070.6 1258.2 1077.9 1268.1 1085.5 1278.0C1093.1 1287.9 1100.8 1299.6 1108.5 1310.0C1116.2 1320.4 1123.8 1330.6 1131.5 1340.5C1139.2 1350.4 1146.9 1360.7 1154.5 1369.5C1162.1 1378.3 1169.4 1386.2 1177.0 1393.5C1184.6 1400.8 1192.3 1407.9 1200.0 1413.5C1207.7 1419.1 1215.3 1423.2 1223.0 1427.0C1230.7 1430.8 1239.5 1434.4 1246.0 1436.5C1252.5 1438.6 1259.3 1439.0 1262.0 1439.5" fill="none" stroke="#ff007f" stroke-width="6.2" stroke-linecap="butt" stroke-linejoin="round"/>
<path d="M845.9 1439.6L861.6 1432.9M890.2 1422.0L891.4 1421.3L892.7 1420.5L893.9 1419.8L895.2 1419.0L896.4 1418.2L897.6 1417.4L898.8 1416.5L899.9 1415.6L901.1 1414.7L902.3 1413.7L903.5 1412.7L904.7 1411.7L905.9 1410.6L907.1 1409.6M940.9 1373.2L942.0 1371.9L943.1 1370.6L944.2 1369.4L945.2 1368.2L946.2 1367.0L947.3 1365.8L948.3 1364.6L949.3 1363.5L950.3 1362.3L951.3 1361.1M976.6 1328.4L977.3 1327.3L978.0 1326.2L978.7 1325.2L979.4 1324.1L980.1 1323.0L980.8 1322.0L981.4 1321.0L982.0 1319.9L982.7 1318.9L983.3 1317.9L983.8 1316.9L984.4 1315.9M996.7 1289.1L997.1 1288.1L997.5 1287.1L997.9 1286.2L998.4 1285.2L998.8 1284.2L999.2 1283.2L999.7 1282.3L1000.2 1281.3L1000.6 1280.3L1001.1 1279.3L1001.5 1278.3L1002.0 1277.3M1014.4 1249.4L1014.8 1248.4L1015.3 1247.4L1015.7 1246.3L1016.1 1245.3L1016.6 1244.3L1017.0 1243.2L1017.4 1242.2L1017.9 1241.2L1018.3 1240.1L1018.7 1239.1L1019.2 1238.0L1019.6 1237.0M1031.5 1207.0L1031.9 1206.0L1032.3 1204.9L1032.7 1203.9L1033.2 1202.8L1033.6 1201.8L1034.0 1200.8L1034.4 1199.7L1034.9 1198.7L1035.3 1197.7L1035.7 1196.6L1036.1 1195.6L1036.6 1194.6M1048.6 1166.5L1049.0 1165.6L1049.4 1164.6L1049.8 1163.6L1050.2 1162.7L1050.6 1161.7L1051.0 1160.8L1051.4 1159.8L1051.8 1158.9L1052.2 1157.9L1052.5 1157.0L1052.9 1156.0L1053.3 1155.1M1062.9 1130.7L1063.3 1129.8L1063.7 1128.9L1064.1 1128.1L1064.5 1127.2L1064.9 1126.3L1065.3 1125.4L1065.8 1124.5L1066.2 1123.6L1066.6 1122.7L1067.0 1121.8L1067.5 1120.9L1067.9 1120.0L1068.3 1119.2L1068.8 1118.3M1080.6 1096.3L1081.1 1095.4L1081.6 1094.6L1082.2 1093.7L1082.7 1092.9L1083.3 1092.0L1083.9 1091.2L1084.4 1090.3L1085.0 1089.5L1085.6 1088.7L1086.2 1087.8L1086.7 1086.9L1087.3 1086.0L1087.9 1085.1L1088.5 1084.2L1089.1 1083.3L1089.7 1082.4M1104.2 1063.3L1104.9 1062.6L1105.6 1061.9L1106.4 1061.3L1107.2 1060.7L1107.9 1060.1L1108.7 1059.6L1109.5 1059.0L1110.3 1058.6L1111.2 1058.1L1112.0 1057.8L1112.8 1057.4L1113.7 1057.0L1114.6 1056.7L1115.5 1056.4L1116.5 1056.2L1117.4 1055.9L1118.4 1055.7L1119.4 1055.5L1120.4 1055.3L1121.4 1055.2M1144.7 1056.8L1145.7 1057.1L1146.6 1057.4L1147.6 1057.7L1148.5 1058.0L1149.4 1058.4L1150.3 1058.7L1151.2 1059.1L1152.0 1059.5L1152.8 1059.9L1153.6 1060.4L1154.4 1060.8L1155.2 1061.4L1155.9 1061.9L1156.7 1062.5L1157.4 1063.1L1158.2 1063.7L1158.9 1064.4M1173.2 1083.1L1173.8 1084.0L1174.4 1084.8L1174.9 1085.6L1175.5 1086.4L1176.1 1087.2L1176.6 1088.0L1177.2 1088.8L1177.8 1089.5L1178.3 1090.2L1178.9 1091.0L1179.4 1091.7L1179.9 1092.4L1180.5 1093.1L1181.0 1093.8L1181.5 1094.5L1182.0 1095.2L1182.5 1095.9M1193.1 1112.0L1193.6 1112.7L1194.1 1113.5L1194.5 1114.2L1195.0 1115.0L1195.5 1115.8L1196.0 1116.6L1196.5 1117.4L1197.0 1118.2L1197.5 1119.1L1198.0 1119.9L1198.5 1120.8L1199.0 1121.7L1199.6 1122.5L1200.1 1123.4L1200.6 1124.3L1201.1 1125.2M1214.6 1149.2L1215.1 1150.2L1215.6 1151.1L1216.2 1152.1L1216.7 1153.0L1217.2 1153.9L1217.7 1154.8L1218.2 1155.8L1218.8 1156.7L1219.3 1157.6L1219.8 1158.5L1220.3 1159.4L1220.8 1160.3L1221.3 1161.2L1221.8 1162.1L1222.3 1163.0M1234.3 1184.0L1234.8 1184.9L1235.3 1185.7L1235.8 1186.6L1236.3 1187.4L1236.8 1188.3L1237.3 1189.1L1237.8 1189.9L1238.2 1190.8L1238.7 1191.6L1239.2 1192.4L1239.7 1193.2L1240.2 1194.0L1240.7 1194.8L1241.2 1195.7L1241.7 1196.5L1242.2 1197.3M1254.1 1215.9L1254.6 1216.7L1255.1 1217.4L1255.6 1218.2L1256.1 1218.9L1256.7 1219.7L1257.2 1220.5L1257.7 1221.2L1258.2 1222.0L1258.8 1222.8L1259.3 1223.5L1259.8 1224.3L1260.4 1225.1L1260.9 1225.8L1261.4 1226.6L1262.0 1227.3L1262.5 1228.1M1276.5 1246.8L1277.1 1247.5L1277.7 1248.3L1278.3 1249.0L1278.9 1249.8L1279.5 1250.5L1280.1 1251.3L1280.8 1252.0L1281.4 1252.7L1282.0 1253.5L1282.6 1254.3L1283.3 1255.0L1283.9 1255.8L1284.5 1256.5L1285.2 1257.3M1301.5 1275.4L1302.3 1276.1L1303.0 1276.8L1303.7 1277.5L1304.5 1278.2L1305.2 1278.9L1306.0 1279.6L1306.7 1280.2L1307.5 1280.9L1308.2 1281.5L1309.0 1282.1L1309.8 1282.7L1310.6 1283.4L1311.3 1283.9L1312.1 1284.5L1312.9 1285.1L1313.6 1285.7L1314.4 1286.2L1315.2 1286.8M1336.3 1299.5L1337.2 1300.0L1338.1 1300.5L1339.1 1301.1L1340.1 1301.6L1341.0 1302.2L1342.0 1302.8L1343.0 1303.3L1344.0 1303.9L1345.0 1304.5L1346.0 1305.1L1347.1 1305.7M1377.5 1322.3L1378.7 1322.9L1379.9 1323.5L1381.1 1324.1L1382.2 1324.7L1383.4 1325.3L1384.6 1325.8L1385.8 1326.4L1387.0 1327.0L1388.2 1327.6L1389.4 1328.1L1390.6 1328.7L1391.8 1329.3L1393.0 1329.8L1394.2 1330.4L1395.4 1331.0L1396.6 1331.5M1427.7 1345.0L1429.0 1345.5L1430.4 1346.0L1431.7 1346.6L1433.0 1347.1L1434.3 1347.7L1435.7 1348.2L1437.0 1348.8L1438.4 1349.3L1439.7 1349.9L1441.1 1350.4L1442.6 1351.0L1444.0 1351.5L1445.5 1352.1M1488.5 1368.4L1489.8 1368.9L1491.0 1369.4L1492.2 1369.8L1493.4 1370.3L1494.5 1370.8L1495.6 1371.2L1496.6 1371.6L1497.7 1372.0L1498.7 1372.5L1499.6 1372.9L1500.6 1373.3M1518.1 1381.2L1518.8 1381.6L1519.5 1381.9L1520.2 1382.2L1521.0 1382.5L1521.7 1382.8L1522.5 1383.2L1523.3 1383.5L1524.1 1383.8L1524.9 1384.2L1525.8 1384.5L1526.6 1384.8L1527.5 1385.2L1528.3 1385.5L1529.2 1385.9L1530.1 1386.2L1530.9 1386.6L1531.8 1386.9L1532.7 1387.3L1533.6 1387.6M1556.0 1396.0L1557.0 1396.4L1558.0 1396.7L1559.1 1397.1L1560.1 1397.4L1561.1 1397.8L1562.2 1398.1L1563.2 1398.5L1564.3 1398.9L1565.4 1399.2L1566.5 1399.6L1567.6 1399.9L1568.7 1400.3L1569.9 1400.7L1571.0 1401.0M1602.6 1410.6L1603.8 1410.9L1605.0 1411.2L1606.2 1411.5L1607.3 1411.8L1608.5 1412.2L1609.6 1412.5L1610.8 1412.8L1611.9 1413.0L1613.0 1413.3L1614.1 1413.6L1615.2 1413.9L1616.3 1414.2L1617.3 1414.4L1618.4 1414.7M1643.4 1420.2L1644.5 1420.4L1645.6 1420.6L1646.7 1420.8L1647.7 1421.0L1648.8 1421.2L1649.9 1421.4L1651.0 1421.6L1652.1 1421.8L1653.2 1422.0L1654.4 1422.2L1655.5 1422.4L1656.7 1422.6L1657.8 1422.8L1658.9 1423.0L1660.1 1423.2L1661.3 1423.4L1662.4 1423.5L1663.6 1423.7M1691.2 1427.6L1692.4 1427.7L1693.6 1427.9L1694.8 1428.0L1696.0 1428.2L1697.2 1428.3L1698.4 1428.5L1699.6 1428.6L1700.8 1428.8L1701.9 1428.9L1703.1 1429.0L1704.3 1429.2L1705.5 1429.3L1706.7 1429.5L1707.8 1429.6L1709.0 1429.7L1710.2 1429.9L1711.4 1430.0M1738.5 1432.9L1739.7 1433.0L1740.9 1433.1L1742.1 1433.2L1743.3 1433.3L1744.6 1433.4L1745.8 1433.5L1747.0 1433.6L1748.2 1433.8L1749.5 1433.9L1750.7 1434.0L1752.0 1434.1L1753.2 1434.2L1754.5 1434.3L1755.7 1434.4L1757.0 1434.5L1758.3 1434.6M1789.3 1436.9L1790.6 1437.0L1791.8 1437.0L1793.1 1437.1L1794.4 1437.2L1795.7 1437.3L1797.0 1437.4L1798.2 1437.4L1799.5 1437.5L1800.8 1437.6L1802.0 1437.6L1803.3 1437.7L1804.6 1437.8L1805.8 1437.8L1807.1 1437.9L1808.4 1438.0L1809.7 1438.0M1838.6 1439.2L1839.8 1439.2L1841.1 1439.2L1842.3 1439.3L1843.5 1439.3L1844.7 1439.3L1845.9 1439.4L1847.1 1439.4L1848.3 1439.5L1849.5 1439.5L1850.7 1439.5L1851.9 1439.6L1853.2 1439.6L1854.4 1439.6L1855.7 1439.7L1857.0 1439.7L1858.2 1439.7L1859.5 1439.8M1887.5 1440.3L1901.5 1440.7" fill="none" stroke="#ff007f" stroke-width="5.5"/>
<path d="M365.7 1443.2 L388.2 1443.2M421.3 1443.2 L443.8 1443.2M476.9 1443.2 L499.4 1443.2M532.5 1443.2 L555.0 1443.2M588.1 1443.2 L610.6 1443.2M643.7 1443.2 L666.2 1443.2M699.3 1443.2 L721.8 1443.2M754.9 1443.2 L777.4 1443.2" fill="none" stroke="#ff007f" stroke-width="5.6"/>
<path d="M1214.5 1446.2L1214.5 1443.0L1229.3 1441.6L1250.0 1439.5L1267.0 1437.0L1276.1 1434.3L1281.5 1431.2L1287.0 1427.0L1293.9 1421.3L1300.7 1414.4L1307.0 1407.0L1312.6 1399.0L1317.6 1390.5L1322.0 1382.0L1325.9 1373.4L1329.1 1364.7L1332.0 1357.0L1334.4 1351.2L1336.3 1346.3L1338.0 1340.0L1339.3 1330.7L1340.2 1320.0L1341.5 1311.0L1343.4 1305.6L1345.6 1301.9L1347.5 1297.0L1348.9 1289.7L1350.1 1281.2L1351.5 1272.5L1353.2 1263.9L1355.1 1255.2L1357.0 1246.5L1359.0 1238.0L1361.1 1229.5L1363.0 1221.0L1364.8 1212.4L1366.4 1203.7L1368.0 1195.0L1369.4 1185.7L1370.7 1176.4L1372.0 1169.0L1373.2 1164.8L1374.5 1162.4L1376.0 1160.0L1378.1 1157.3L1380.5 1154.6L1382.5 1150.0L1383.8 1142.5L1384.8 1133.1L1386.0 1124.0L1387.7 1115.3L1389.7 1106.8L1391.5 1099.5L1393.1 1094.1L1394.5 1090.0L1396.0 1086.5L1397.4 1083.4L1398.9 1081.0L1400.5 1079.0L1402.7 1078.3L1405.1 1078.0L1407.0 1076.0L1408.1 1070.3L1408.8 1062.8L1409.5 1057.0L1410.4 1054.3L1411.4 1053.4L1412.5 1053.5L1413.7 1054.3L1414.9 1056.1L1416.0 1059.5L1416.9 1065.4L1417.6 1072.7L1418.5 1079.0L1419.6 1083.0L1420.9 1085.9L1422.5 1089.0L1424.5 1093.1L1426.8 1097.4L1429.0 1100.5L1431.0 1101.2L1432.9 1100.8L1434.5 1102.0L1435.5 1106.0L1436.2 1111.5L1437.0 1117.5L1438.1 1123.7L1439.3 1130.4L1440.5 1137.0L1441.8 1143.4L1443.2 1149.6L1444.5 1156.0L1445.7 1162.5L1446.9 1169.0L1448.0 1175.5L1449.1 1182.0L1450.3 1188.5L1451.5 1195.0L1452.8 1201.5L1454.2 1208.0L1455.5 1214.5L1456.5 1220.7L1457.5 1226.9L1458.5 1233.5L1459.7 1241.1L1461.1 1249.1L1462.5 1257.0L1464.0 1264.6L1465.5 1271.9L1467.0 1279.0L1468.4 1285.5L1469.6 1291.7L1471.0 1298.0L1472.4 1304.4L1473.9 1310.8L1475.5 1317.5L1477.1 1324.9L1478.7 1332.6L1480.5 1340.0L1482.5 1346.8L1484.7 1353.3L1487.0 1359.5L1489.2 1365.2L1491.6 1370.7L1494.5 1377.0L1498.2 1385.1L1502.5 1393.9L1507.0 1402.0L1511.6 1408.6L1516.5 1414.3L1522.0 1419.5L1528.1 1424.2L1534.8 1428.4L1542.0 1432.0L1549.8 1435.0L1558.1 1437.5L1567.0 1439.5L1577.7 1441.1L1589.0 1442.2L1597.0 1443.0L1597.0 1442.6 L1597.0 1446.2 Z" fill="#ff007f" stroke="#ff007f" stroke-width="1" stroke-linejoin="round"/>
<path d="M335.0 1874.0C338.3 1873.4 347.5 1871.5 355.0 1870.5C362.5 1869.5 371.7 1869.2 380.0 1868.0C388.3 1866.8 396.7 1865.2 405.0 1863.0C413.3 1860.8 421.7 1857.8 430.0 1855.0C438.3 1852.2 446.7 1849.3 455.0 1846.5C463.3 1843.7 471.7 1840.8 480.0 1838.0C488.3 1835.2 496.7 1832.5 505.0 1830.0C513.3 1827.5 521.7 1824.8 530.0 1823.0C538.3 1821.2 546.7 1820.3 555.0 1819.0C563.3 1817.7 571.7 1816.4 580.0 1815.0C588.3 1813.6 596.7 1812.5 605.0 1810.5C613.3 1808.5 621.7 1806.3 630.0 1803.0C638.3 1799.7 646.7 1795.8 655.0 1790.5C663.3 1785.2 671.7 1778.4 680.0 1771.5C688.3 1764.6 696.7 1755.7 705.0 1749.0C713.3 1742.3 721.7 1736.5 730.0 1731.5C738.3 1726.5 746.7 1721.7 755.0 1719.0C763.3 1716.3 772.5 1716.1 780.0 1715.5C787.5 1714.9 793.3 1714.5 800.0 1715.5C806.7 1716.5 812.5 1719.1 820.0 1721.5C827.5 1723.9 836.7 1727.7 845.0 1730.0C853.3 1732.3 861.7 1734.4 870.0 1735.5C878.3 1736.6 887.5 1737.4 895.0 1736.5C902.5 1735.6 907.5 1733.8 915.0 1730.0C922.5 1726.2 931.7 1720.4 940.0 1714.0C948.3 1707.6 956.7 1699.4 965.0 1691.5C973.3 1683.6 981.7 1674.6 990.0 1666.5C998.3 1658.4 1006.7 1649.4 1015.0 1643.0C1023.3 1636.6 1033.0 1630.3 1040.0 1628.0C1047.0 1625.7 1051.6 1627.4 1057.0 1629.0C1062.4 1630.6 1067.8 1633.9 1072.5 1637.5C1077.2 1641.1 1080.8 1645.8 1085.0 1650.5C1089.2 1655.2 1093.4 1659.8 1098.0 1666.0C1102.6 1672.2 1107.5 1680.1 1112.5 1688.0C1117.5 1695.9 1122.8 1704.5 1128.0 1713.5C1133.2 1722.5 1138.3 1732.8 1143.5 1742.0C1148.7 1751.2 1153.8 1760.4 1159.0 1769.0C1164.2 1777.6 1169.3 1785.5 1174.5 1793.5C1179.7 1801.5 1184.4 1809.2 1190.0 1817.0C1195.6 1824.8 1202.2 1833.2 1208.0 1840.0C1213.8 1846.8 1219.3 1852.8 1224.5 1858.0C1229.7 1863.2 1231.9 1865.8 1239.0 1871.0C1246.1 1876.2 1258.2 1884.3 1267.0 1889.0C1275.8 1893.7 1284.9 1896.5 1292.0 1899.0C1299.1 1901.5 1306.6 1903.2 1309.5 1904.0" fill="none" stroke="#6aa311" stroke-width="6.3" stroke-linecap="butt" stroke-linejoin="round"/>
<path d="M878.0 1912.9L894.5 1904.1M928.7 1885.8L930.0 1885.1L931.3 1884.3L932.6 1883.6L933.8 1882.9L935.1 1882.2L936.2 1881.5L937.4 1880.8L938.6 1880.2L939.7 1879.5L940.9 1878.8L942.1 1878.2L943.2 1877.5L944.4 1876.9M973.7 1859.0L974.6 1858.3L975.6 1857.5L976.5 1856.8L977.4 1856.0L978.4 1855.3L979.2 1854.5L980.1 1853.7L981.0 1852.9L981.9 1852.1L982.7 1851.3L983.6 1850.5L984.4 1849.6M1003.3 1825.4L1003.9 1824.4L1004.5 1823.5L1005.1 1822.6L1005.7 1821.7L1006.3 1820.8L1006.9 1819.9L1007.5 1819.0L1008.1 1818.1L1008.7 1817.2L1009.2 1816.3L1009.8 1815.4L1010.3 1814.5L1010.8 1813.7L1011.3 1812.8L1011.8 1811.9M1023.5 1788.5L1023.9 1787.5L1024.4 1786.6L1024.8 1785.6L1025.3 1784.7L1025.8 1783.7L1026.2 1782.8L1026.7 1781.8L1027.2 1780.8L1027.7 1779.8L1028.2 1778.8L1028.7 1777.8L1029.2 1776.8M1043.4 1747.8L1043.9 1746.8L1044.4 1745.7L1044.9 1744.6L1045.3 1743.6L1045.8 1742.5L1046.2 1741.5L1046.7 1740.5L1047.1 1739.4L1047.6 1738.4L1048.0 1737.3L1048.4 1736.2L1048.9 1735.2M1060.0 1705.4L1060.4 1704.3L1060.8 1703.3L1061.2 1702.2L1061.7 1701.1L1062.1 1700.1L1062.5 1699.0L1062.9 1697.9L1063.4 1696.9L1063.8 1695.8L1064.2 1694.8L1064.6 1693.7L1065.1 1692.7M1077.6 1663.1L1078.1 1662.1L1078.6 1661.0L1079.1 1659.8L1079.5 1658.7L1080.0 1657.6L1080.5 1656.5L1081.0 1655.4L1081.5 1654.2L1082.0 1653.1L1082.5 1651.9L1083.0 1650.7L1083.5 1649.5M1098.3 1615.5L1098.8 1614.4L1099.3 1613.3L1099.8 1612.2L1100.3 1611.1L1100.8 1610.0L1101.2 1609.0L1101.7 1608.0L1102.2 1606.9L1102.7 1605.9L1103.2 1604.9L1103.6 1603.9L1104.1 1603.0L1104.6 1602.0M1115.6 1579.9L1116.1 1579.0L1116.5 1578.2L1117.0 1577.4L1117.4 1576.6L1117.9 1575.7L1118.3 1574.9L1118.8 1574.1L1119.2 1573.2L1119.7 1572.4L1120.2 1571.6L1120.6 1570.8L1121.0 1569.9L1121.5 1569.1L1121.9 1568.3L1122.3 1567.4L1122.8 1566.6M1133.5 1547.9L1134.0 1547.2L1134.6 1546.5L1135.2 1545.8L1135.7 1545.2L1136.3 1544.6L1137.0 1543.9L1137.6 1543.3L1138.2 1542.8L1138.9 1542.2L1139.6 1541.6L1140.3 1541.0L1141.0 1540.4L1141.8 1539.8L1142.5 1539.2L1143.3 1538.6M1163.2 1527.5L1164.1 1527.2L1165.0 1527.0L1165.9 1526.8L1166.8 1526.7L1167.7 1526.6L1168.6 1526.5L1169.4 1526.4L1170.3 1526.4L1171.2 1526.4L1172.0 1526.5L1172.8 1526.6L1173.7 1526.8L1174.6 1526.9L1175.4 1527.2L1176.3 1527.4L1177.2 1527.7L1178.0 1528.0L1178.9 1528.4L1179.8 1528.8L1180.7 1529.2M1200.4 1544.3L1201.2 1545.1L1202.0 1545.8L1202.7 1546.6L1203.5 1547.3L1204.3 1548.0L1205.0 1548.8L1205.8 1549.5L1206.5 1550.2L1207.2 1551.0L1207.9 1551.7L1208.6 1552.5L1209.3 1553.2L1210.0 1554.0L1210.6 1554.8M1225.7 1576.8L1226.3 1577.7L1226.8 1578.6L1227.4 1579.5L1228.0 1580.4L1228.5 1581.3L1229.1 1582.2L1229.7 1583.1L1230.2 1584.0L1230.8 1584.9L1231.4 1585.8L1231.9 1586.7L1232.5 1587.6L1233.0 1588.5L1233.6 1589.4L1234.1 1590.3L1234.7 1591.3M1247.7 1614.6L1248.2 1615.5L1248.7 1616.4L1249.3 1617.3L1249.8 1618.3L1250.4 1619.2L1250.9 1620.1L1251.5 1621.0L1252.1 1621.9L1252.6 1622.8L1253.2 1623.7L1253.8 1624.6L1254.3 1625.5L1254.9 1626.4L1255.5 1627.3M1270.4 1649.2L1271.0 1650.1L1271.6 1651.0L1272.2 1651.9L1272.8 1652.8L1273.4 1653.7L1274.0 1654.7L1274.6 1655.6L1275.2 1656.5L1275.9 1657.4L1276.5 1658.4L1277.1 1659.3L1277.7 1660.3L1278.3 1661.2L1278.9 1662.2L1279.5 1663.2M1295.1 1688.0L1295.7 1688.9L1296.4 1689.9L1297.0 1690.8L1297.6 1691.7L1298.2 1692.6L1298.8 1693.5L1299.4 1694.4L1300.0 1695.2L1300.6 1696.1L1301.2 1696.9L1301.8 1697.8L1302.4 1698.6L1302.9 1699.4L1303.5 1700.2L1304.1 1701.0L1304.7 1701.8M1318.3 1719.4L1318.9 1720.1L1319.5 1720.8L1320.1 1721.6L1320.7 1722.3L1321.3 1723.0L1322.0 1723.8L1322.6 1724.5L1323.2 1725.2L1323.9 1726.0L1324.5 1726.7L1325.2 1727.5L1325.8 1728.2L1326.5 1729.0L1327.1 1729.7L1327.8 1730.5L1328.4 1731.2M1345.3 1749.0L1346.1 1749.8L1346.9 1750.5L1347.7 1751.3L1348.5 1752.1L1349.4 1752.9L1350.2 1753.7L1351.1 1754.5L1352.0 1755.2L1352.9 1756.0L1353.8 1756.9L1354.7 1757.7L1355.6 1758.5L1356.6 1759.3L1357.5 1760.1L1358.4 1760.9M1388.4 1784.7L1389.6 1785.6L1390.8 1786.4L1392.0 1787.3L1393.3 1788.1L1394.5 1789.0L1395.8 1789.9L1397.0 1790.7L1398.3 1791.6L1399.6 1792.5L1400.9 1793.4M1442.8 1819.4L1444.4 1820.2L1445.9 1821.0L1447.4 1821.8L1448.9 1822.5L1450.5 1823.3L1452.0 1824.0L1453.5 1824.7L1455.1 1825.4L1456.7 1826.1L1458.3 1826.8L1459.9 1827.5L1461.5 1828.2M1508.1 1844.2L1509.7 1844.6L1511.2 1845.1L1512.7 1845.6L1514.1 1846.1L1515.6 1846.5L1517.0 1847.0L1518.4 1847.5L1519.8 1847.9L1521.1 1848.3L1522.5 1848.8L1523.8 1849.2L1525.1 1849.6L1526.4 1850.0M1557.8 1859.0L1558.9 1859.3L1560.0 1859.6L1561.1 1860.0L1562.3 1860.3L1563.4 1860.6L1564.5 1861.0L1565.6 1861.4L1566.7 1861.7L1567.9 1862.1L1569.0 1862.4L1570.1 1862.8L1571.2 1863.2M1600.7 1873.4L1601.8 1873.8L1602.8 1874.1L1603.9 1874.5L1604.9 1874.8L1606.0 1875.2L1607.0 1875.5L1608.0 1875.8L1609.1 1876.2L1610.1 1876.5L1611.1 1876.8L1612.1 1877.1L1613.2 1877.5M1640.5 1885.7L1641.5 1886.0L1642.6 1886.3L1643.7 1886.6L1644.8 1886.9L1646.0 1887.2L1647.1 1887.5L1648.2 1887.8L1649.4 1888.0L1650.6 1888.3L1651.8 1888.6L1653.0 1889.0L1654.2 1889.3L1655.4 1889.6M1690.6 1897.5L1691.9 1897.8L1693.2 1898.0L1694.5 1898.3L1695.8 1898.5L1697.0 1898.8L1698.3 1899.0L1699.5 1899.2L1700.7 1899.5L1702.0 1899.7L1703.2 1899.9L1704.4 1900.1L1705.6 1900.3L1706.8 1900.5L1708.0 1900.7M1738.5 1905.0L1739.7 1905.2L1740.9 1905.3L1742.1 1905.4L1743.3 1905.6L1744.5 1905.7L1745.8 1905.9L1747.0 1906.0L1748.2 1906.1L1749.5 1906.3L1750.7 1906.4L1752.0 1906.6L1753.2 1906.7L1754.5 1906.8L1755.8 1907.0M1788.0 1909.8L1789.3 1909.9L1790.6 1910.0L1791.9 1910.1L1793.2 1910.2L1794.4 1910.2L1795.7 1910.3L1797.0 1910.4L1798.2 1910.5L1799.5 1910.6L1800.8 1910.7L1802.1 1910.7L1803.3 1910.8L1804.6 1910.9L1805.9 1910.9L1807.2 1911.0L1808.4 1911.1M1838.7 1912.2L1839.9 1912.2L1841.1 1912.3L1842.3 1912.3L1843.5 1912.3L1844.7 1912.4L1845.9 1912.4L1847.1 1912.5L1848.2 1912.5L1849.4 1912.5L1850.6 1912.6L1851.8 1912.6L1853.1 1912.7L1854.3 1912.7L1855.6 1912.8L1856.8 1912.8L1858.1 1912.9M1884.9 1913.8L1899.1 1914.2" fill="none" stroke="#6aa311" stroke-width="5.6"/>
<path d="M332.7 1916.5 L355.2 1916.5M388.3 1916.5 L410.8 1916.5M443.9 1916.5 L466.4 1916.5M499.5 1916.5 L522.0 1916.5M555.1 1916.5 L577.6 1916.5M610.7 1916.5 L633.2 1916.5M666.3 1916.5 L688.8 1916.5M721.9 1916.5 L744.4 1916.5M777.5 1916.5 L800.0 1916.5M833.1 1916.5 L855.6 1916.5" fill="none" stroke="#6aa311" stroke-width="8.0"/>
<path d="M1234.5 1920.4L1234.5 1915.5L1247.6 1914.7L1266.1 1913.4L1282.0 1911.5L1292.4 1908.9L1300.2 1905.6L1307.0 1901.5L1312.7 1896.7L1317.4 1891.0L1322.0 1884.0L1327.2 1874.6L1332.4 1863.9L1337.0 1854.0L1340.5 1845.9L1343.4 1838.6L1346.0 1831.5L1348.5 1824.5L1350.7 1817.7L1353.0 1810.0L1355.5 1800.8L1358.1 1790.7L1360.5 1781.0L1362.8 1772.3L1364.9 1763.9L1367.0 1755.5L1369.0 1746.9L1371.0 1738.2L1373.0 1729.5L1375.0 1720.3L1377.0 1711.2L1379.0 1703.5L1381.0 1698.8L1383.0 1695.7L1385.0 1691.0L1386.8 1683.3L1388.6 1674.2L1390.5 1665.0L1392.6 1656.3L1394.8 1647.6L1397.0 1639.0L1399.2 1630.2L1401.4 1621.5L1403.5 1613.5L1405.6 1606.6L1407.6 1600.3L1409.5 1594.0L1411.3 1587.4L1413.1 1580.7L1415.0 1574.5L1417.1 1568.8L1419.4 1563.5L1421.5 1559.0L1423.2 1555.4L1424.8 1552.6L1426.5 1550.0L1428.6 1547.9L1430.9 1546.1L1433.0 1543.5L1434.8 1539.1L1436.4 1533.8L1438.0 1529.5L1439.5 1526.5L1441.0 1524.5L1442.5 1524.0L1443.9 1526.0L1445.4 1529.6L1447.0 1532.0L1449.1 1531.5L1451.5 1529.9L1453.5 1530.0L1454.8 1533.8L1455.7 1539.2L1457.0 1543.5L1459.2 1544.7L1461.8 1544.6L1464.0 1546.0L1465.6 1550.1L1466.8 1555.6L1468.0 1561.5L1469.2 1567.7L1470.3 1574.4L1471.5 1581.0L1472.8 1587.5L1474.1 1594.0L1475.5 1600.5L1477.0 1607.0L1478.5 1613.5L1480.0 1620.0L1481.4 1626.4L1482.8 1632.6L1484.0 1639.0L1485.0 1645.5L1486.0 1652.0L1487.0 1658.5L1488.3 1665.0L1489.6 1671.5L1491.0 1678.0L1492.3 1684.4L1493.7 1690.6L1495.0 1697.0L1496.4 1703.5L1497.7 1710.0L1499.0 1716.5L1500.2 1723.0L1501.3 1729.5L1502.5 1736.0L1503.9 1742.5L1505.4 1749.0L1507.0 1755.5L1508.9 1761.9L1511.0 1768.1L1513.0 1774.5L1514.8 1781.1L1516.4 1787.7L1518.0 1794.0L1519.4 1799.3L1520.8 1804.2L1522.5 1810.0L1524.8 1817.5L1527.4 1825.8L1530.0 1834.0L1532.3 1841.6L1534.5 1849.1L1537.0 1856.5L1539.9 1864.2L1543.2 1871.9L1547.0 1879.0L1551.4 1885.4L1556.4 1891.3L1562.0 1896.5L1568.1 1901.0L1574.8 1904.8L1582.0 1908.0L1590.1 1910.6L1598.9 1912.5L1607.0 1914.0L1614.8 1914.9L1622.0 1915.3L1627.0 1915.5L1624.0 1914.0 L1624.0 1920.4 Z" fill="#6aa311" stroke="#6aa311" stroke-width="1" stroke-linejoin="round"/>
<path d="M332.5 2370.5C336.2 2371.2 347.1 2372.9 355.0 2374.5C362.9 2376.1 371.7 2378.3 380.0 2380.0C388.3 2381.7 396.7 2383.7 405.0 2384.5C413.3 2385.3 421.7 2385.2 430.0 2385.0C438.3 2384.8 446.7 2384.6 455.0 2383.5C463.3 2382.4 471.7 2380.6 480.0 2378.5C488.3 2376.4 496.7 2374.1 505.0 2371.0C513.3 2367.9 521.7 2363.8 530.0 2360.0C538.3 2356.2 546.7 2352.2 555.0 2348.5C563.3 2344.8 571.7 2340.6 580.0 2337.5C588.3 2334.4 596.7 2332.3 605.0 2330.0C613.3 2327.7 621.7 2325.4 630.0 2323.5C638.3 2321.6 646.7 2320.8 655.0 2318.5C663.3 2316.2 671.7 2313.8 680.0 2310.0C688.3 2306.2 696.7 2302.1 705.0 2296.0C713.3 2289.9 721.7 2282.2 730.0 2273.5C738.3 2264.8 746.7 2253.1 755.0 2243.5C763.3 2233.9 771.7 2224.1 780.0 2216.0C788.3 2207.9 796.7 2200.2 805.0 2195.0C813.3 2189.8 822.5 2186.2 830.0 2184.5C837.5 2182.8 843.3 2182.6 850.0 2184.5C856.7 2186.4 862.5 2191.2 870.0 2196.0C877.5 2200.8 886.7 2207.8 895.0 2213.5C903.3 2219.2 911.7 2225.8 920.0 2230.0C928.3 2234.2 936.7 2237.1 945.0 2238.5C953.3 2239.9 961.7 2240.6 970.0 2238.5C978.3 2236.4 986.7 2231.8 995.0 2226.0C1003.3 2220.2 1011.7 2212.7 1020.0 2203.5C1028.3 2194.3 1036.7 2182.2 1045.0 2171.0C1053.3 2159.8 1062.5 2145.2 1070.0 2136.0C1077.5 2126.8 1084.8 2120.2 1090.0 2115.5C1095.2 2110.8 1097.3 2109.2 1101.0 2107.5C1104.7 2105.8 1108.0 2104.6 1112.0 2105.0C1116.0 2105.4 1120.8 2107.2 1125.0 2110.0C1129.2 2112.8 1132.8 2116.3 1137.5 2122.0C1142.2 2127.7 1148.2 2135.6 1153.5 2144.0C1158.8 2152.4 1164.2 2162.7 1169.5 2172.5C1174.8 2182.3 1180.2 2192.9 1185.5 2203.0C1190.8 2213.1 1195.8 2222.8 1201.0 2233.0C1206.2 2243.2 1211.7 2254.2 1217.0 2264.5C1222.3 2274.8 1227.7 2285.4 1233.0 2295.0C1238.3 2304.6 1243.8 2313.6 1249.0 2322.0C1254.2 2330.4 1259.2 2338.3 1264.5 2345.5C1269.8 2352.7 1275.2 2359.4 1280.5 2365.0C1285.8 2370.6 1291.8 2375.2 1296.5 2379.0C1301.2 2382.8 1304.3 2385.8 1309.0 2387.5C1313.7 2389.2 1321.9 2388.8 1324.5 2389.0" fill="none" stroke="#800080" stroke-width="6.4" stroke-linecap="butt" stroke-linejoin="round"/>
<path d="M868.1 2387.7L886.9 2385.3M928.1 2380.2L929.7 2380.0L931.4 2379.8L932.9 2379.6L934.5 2379.4L936.0 2379.2L937.5 2379.0L939.0 2378.8L940.4 2378.6L941.9 2378.5L943.4 2378.3L944.9 2378.1L946.4 2378.0M985.6 2373.2L987.0 2372.9L988.3 2372.6L989.6 2372.3L990.8 2372.0L992.1 2371.7L993.3 2371.4L994.5 2371.0L995.7 2370.6L996.9 2370.2L998.0 2369.9L999.2 2369.4L1000.3 2369.0L1001.4 2368.6L1002.6 2368.2L1003.7 2367.7M1028.4 2353.5L1029.3 2352.9L1030.1 2352.2L1030.9 2351.6L1031.7 2351.0L1032.5 2350.4L1033.2 2349.8L1034.0 2349.1L1034.8 2348.5L1035.5 2347.9L1036.2 2347.2L1036.9 2346.6L1037.6 2346.0L1038.3 2345.3M1053.0 2326.8L1053.5 2326.0L1054.0 2325.2L1054.6 2324.4L1055.1 2323.5L1055.6 2322.7L1056.2 2321.9L1056.8 2321.0L1057.3 2320.1L1057.9 2319.3L1058.4 2318.4L1059.0 2317.5L1059.5 2316.6L1060.1 2315.6L1060.6 2314.7M1074.7 2287.2L1075.2 2286.2L1075.7 2285.2L1076.2 2284.1L1076.7 2283.1L1077.2 2282.0L1077.8 2281.0L1078.2 2280.0L1078.7 2278.9L1079.2 2277.9L1079.7 2276.9L1080.2 2275.8L1080.7 2274.8M1094.0 2245.0L1094.5 2243.9L1094.9 2242.9L1095.4 2241.8L1095.8 2240.7L1096.3 2239.6L1096.8 2238.5L1097.2 2237.4L1097.6 2236.3L1098.1 2235.2L1098.5 2234.1L1099.0 2233.0L1099.4 2231.9M1111.0 2201.3L1111.4 2200.1L1111.8 2199.0L1112.2 2197.9L1112.6 2196.8L1113.0 2195.7L1113.4 2194.6L1113.8 2193.5L1114.1 2192.4L1114.5 2191.3L1114.9 2190.2L1115.3 2189.1L1115.6 2188.0L1116.0 2187.0L1116.4 2185.9M1125.2 2158.2L1125.6 2157.1L1125.9 2156.1L1126.3 2155.1L1126.6 2154.1L1127.0 2153.0L1127.4 2152.0L1127.8 2151.0L1128.1 2150.0L1128.5 2149.0L1128.9 2148.0L1129.2 2147.0L1129.6 2146.1L1130.0 2145.1L1130.4 2144.2M1140.2 2120.7L1140.6 2119.7L1141.1 2118.7L1141.5 2117.7L1141.9 2116.6L1142.4 2115.5L1142.8 2114.5L1143.3 2113.4L1143.8 2112.2L1144.2 2111.1L1144.7 2110.0L1145.1 2108.8L1145.6 2107.6L1146.1 2106.4L1146.5 2105.2L1147.0 2104.0M1160.3 2070.0L1160.9 2068.7L1161.5 2067.4L1162.1 2066.1L1162.7 2064.8L1163.3 2063.5L1163.9 2062.3L1164.5 2061.0L1165.1 2059.7L1165.7 2058.5L1166.4 2057.2L1167.0 2055.8L1167.6 2054.5L1168.3 2053.2L1168.9 2051.8M1186.7 2019.3L1187.4 2018.3L1188.3 2017.3L1189.1 2016.3L1189.9 2015.4L1190.7 2014.6L1191.5 2013.7L1192.4 2013.0L1193.2 2012.2L1194.1 2011.6L1195.0 2010.9L1195.9 2010.3L1196.8 2009.7L1197.8 2009.2L1198.7 2008.6L1199.7 2008.1L1200.7 2007.7L1201.7 2007.2M1224.6 2003.8L1225.6 2003.9L1226.6 2004.0L1227.6 2004.1L1228.6 2004.3L1229.6 2004.4L1230.5 2004.6L1231.4 2004.8L1232.4 2005.0L1233.2 2005.2L1234.1 2005.5L1235.0 2005.8L1235.9 2006.1L1236.8 2006.4L1237.6 2006.8L1238.5 2007.2L1239.3 2007.7L1240.2 2008.1L1241.0 2008.6M1259.5 2025.4L1260.2 2026.2L1261.0 2027.0L1261.7 2027.8L1262.4 2028.6L1263.1 2029.4L1263.8 2030.2L1264.5 2031.0L1265.2 2031.8L1265.9 2032.6L1266.6 2033.4L1267.3 2034.3L1267.9 2035.1L1268.6 2036.0L1269.3 2036.9M1285.4 2061.8L1286.0 2062.8L1286.6 2063.7L1287.2 2064.7L1287.8 2065.7L1288.3 2066.6L1288.9 2067.6L1289.5 2068.5L1290.1 2069.4L1290.7 2070.4L1291.2 2071.3L1291.8 2072.2L1292.4 2073.2L1292.9 2074.1L1293.5 2075.1M1307.3 2099.4L1307.8 2100.4L1308.3 2101.3L1308.9 2102.2L1309.4 2103.2L1309.9 2104.1L1310.5 2105.1L1311.0 2106.0L1311.5 2106.9L1312.1 2107.9L1312.6 2108.8L1313.2 2109.8L1313.7 2110.7L1314.3 2111.7L1314.8 2112.6M1328.4 2136.3L1329.0 2137.2L1329.5 2138.1L1330.0 2139.1L1330.6 2140.0L1331.1 2140.8L1331.7 2141.7L1332.2 2142.6L1332.8 2143.5L1333.3 2144.4L1333.8 2145.2L1334.4 2146.1L1334.9 2146.9L1335.4 2147.8L1335.9 2148.6L1336.5 2149.5L1337.0 2150.3M1349.1 2168.7L1349.7 2169.5L1350.2 2170.3L1350.8 2171.1L1351.4 2171.9L1351.9 2172.7L1352.5 2173.5L1353.1 2174.4L1353.7 2175.2L1354.2 2176.0L1354.8 2176.8L1355.4 2177.7L1356.0 2178.5L1356.7 2179.4L1357.3 2180.2L1357.9 2181.1L1358.5 2181.9L1359.1 2182.8M1374.9 2203.4L1375.5 2204.2L1376.2 2205.0L1376.8 2205.8L1377.5 2206.6L1378.1 2207.4L1378.7 2208.2L1379.4 2209.0L1380.0 2209.8L1380.6 2210.5L1381.3 2211.3L1381.9 2212.0L1382.5 2212.8L1383.1 2213.5L1383.7 2214.2L1384.3 2215.0L1385.0 2215.7L1385.6 2216.4M1398.3 2230.8L1398.9 2231.4L1399.5 2232.1L1400.1 2232.7L1400.7 2233.4L1401.4 2234.0L1402.0 2234.7L1402.6 2235.3L1403.2 2236.0L1403.9 2236.6L1404.5 2237.2L1405.1 2237.9L1405.7 2238.5L1406.4 2239.1L1407.0 2239.8L1407.6 2240.4L1408.2 2241.0L1408.7 2241.6L1409.3 2242.2L1409.9 2242.8L1410.5 2243.4M1425.7 2257.3L1426.5 2257.9L1427.3 2258.5L1428.1 2259.1L1429.0 2259.7L1429.9 2260.4L1430.8 2261.0L1431.7 2261.6L1432.6 2262.3L1433.5 2262.9L1434.5 2263.6L1435.5 2264.3L1436.5 2264.9M1467.8 2283.7L1469.1 2284.4L1470.4 2285.1L1471.7 2285.8L1473.0 2286.5L1474.4 2287.1L1475.7 2287.8L1477.0 2288.5L1478.3 2289.2L1479.7 2289.8L1481.1 2290.5L1482.5 2291.2L1483.9 2291.9L1485.3 2292.6M1528.1 2311.2L1529.6 2311.8L1531.1 2312.4L1532.6 2313.0L1534.1 2313.6L1535.6 2314.2L1537.0 2314.8L1538.4 2315.3L1539.9 2315.9L1541.3 2316.4L1542.8 2317.0L1544.2 2317.5L1545.7 2318.1M1583.5 2330.9L1584.7 2331.3L1586.0 2331.7L1587.2 2332.0L1588.4 2332.4L1589.7 2332.8L1590.8 2333.1L1592.0 2333.5L1593.1 2333.8L1594.3 2334.2L1595.4 2334.5L1596.4 2334.8L1597.5 2335.1L1598.5 2335.4L1599.6 2335.7L1600.6 2335.9M1623.0 2341.2L1623.9 2341.4L1624.8 2341.7L1625.7 2341.9L1626.7 2342.2L1627.6 2342.4L1628.5 2342.7L1629.5 2343.0L1630.5 2343.3L1631.4 2343.6L1632.4 2343.9L1633.4 2344.2L1634.3 2344.5L1635.3 2344.9L1636.3 2345.2M1661.0 2354.1L1662.0 2354.4L1663.1 2354.8L1664.1 2355.1L1665.2 2355.5L1666.3 2355.8L1667.3 2356.1L1668.4 2356.4L1669.5 2356.8L1670.6 2357.1L1671.7 2357.4L1672.8 2357.7L1673.9 2358.0L1675.1 2358.3L1676.2 2358.6L1677.4 2358.9L1678.5 2359.2M1708.5 2366.3L1709.7 2366.6L1711.0 2366.8L1712.2 2367.1L1713.4 2367.3L1714.6 2367.5L1715.8 2367.8L1717.0 2368.0L1718.2 2368.2L1719.4 2368.4L1720.6 2368.7L1721.8 2368.9L1723.0 2369.1L1724.2 2369.3L1725.4 2369.5M1755.9 2373.5L1757.1 2373.7L1758.4 2373.8L1759.6 2374.0L1760.8 2374.1L1762.1 2374.3L1763.3 2374.4L1764.5 2374.6L1765.8 2374.8L1767.0 2374.9L1768.2 2375.1L1769.5 2375.2L1770.7 2375.4L1771.9 2375.6L1773.1 2375.7L1774.4 2375.9L1775.6 2376.1M1805.5 2379.9L1806.8 2380.0L1808.0 2380.2L1809.3 2380.3L1810.6 2380.5L1811.9 2380.6L1813.2 2380.7L1814.5 2380.9L1815.8 2381.0L1817.1 2381.1L1818.4 2381.3L1819.7 2381.4L1821.1 2381.5L1822.5 2381.7L1823.9 2381.8L1825.3 2381.9M1859.3 2384.6L1860.5 2384.7L1861.8 2384.7L1863.0 2384.8L1864.1 2384.9L1865.3 2385.0L1866.4 2385.0L1867.5 2385.1L1868.5 2385.2L1869.5 2385.2L1870.5 2385.3L1871.4 2385.4L1872.4 2385.4L1873.3 2385.5L1874.2 2385.5L1875.0 2385.6L1875.9 2385.6L1876.7 2385.6L1877.6 2385.7L1878.4 2385.7L1879.1 2385.7L1879.9 2385.8M1887.5 2385.8L1901.5 2386.2" fill="none" stroke="#800080" stroke-width="5.7"/>
<path d="M332.7 2390.5 L355.2 2390.5M388.3 2390.5 L410.8 2390.5M443.9 2390.5 L466.4 2390.5M499.5 2390.5 L522.0 2390.5M555.1 2390.5 L577.6 2390.5M610.7 2390.5 L633.2 2390.5M666.3 2390.5 L688.8 2390.5M721.9 2390.5 L744.4 2390.5M777.5 2390.5 L800.0 2390.5" fill="none" stroke="#800080" stroke-width="8.0"/>
<path d="M1304.5 2394.6L1304.5 2389.0L1314.7 2387.4L1329.0 2384.9L1342.0 2381.0L1351.3 2375.6L1359.1 2368.9L1367.0 2361.0L1375.3 2351.9L1383.7 2341.7L1392.0 2331.0L1400.8 2319.6L1409.6 2307.6L1417.0 2296.0L1422.4 2284.0L1426.5 2272.4L1430.0 2264.0L1432.9 2261.4L1435.3 2262.0L1437.5 2261.0L1439.7 2256.1L1441.8 2249.6L1444.0 2243.0L1446.5 2236.8L1449.0 2230.4L1451.5 2224.0L1453.8 2217.5L1455.9 2211.0L1458.0 2204.5L1460.0 2198.0L1462.0 2191.5L1464.0 2185.0L1466.0 2178.6L1468.1 2172.2L1470.0 2166.0L1471.7 2160.2L1473.3 2154.7L1475.0 2149.0L1477.0 2143.0L1479.1 2137.0L1481.0 2131.0L1482.6 2125.2L1484.1 2119.5L1485.5 2114.0L1486.8 2108.8L1488.1 2103.7L1489.5 2098.5L1491.1 2093.2L1492.7 2087.8L1494.5 2082.0L1496.4 2075.7L1498.5 2069.1L1500.5 2062.5L1502.3 2055.9L1504.1 2049.2L1506.0 2043.0L1508.1 2037.6L1510.4 2032.6L1512.5 2027.5L1514.4 2021.9L1516.2 2016.1L1518.0 2011.0L1519.6 2006.7L1521.2 2003.1L1523.0 2000.5L1525.1 1999.0L1527.3 1998.4L1529.5 1998.5L1531.7 1999.4L1533.9 2001.0L1536.0 2003.0L1537.8 2005.2L1539.4 2007.8L1541.0 2011.0L1542.6 2014.8L1544.3 2019.2L1546.0 2024.0L1547.8 2029.2L1549.7 2034.8L1551.5 2040.5L1553.1 2046.4L1554.6 2052.5L1556.0 2058.5L1557.4 2064.1L1558.7 2069.7L1560.0 2075.5L1561.2 2081.8L1562.3 2088.4L1563.5 2095.0L1564.8 2101.4L1566.1 2107.6L1567.5 2114.0L1569.0 2120.5L1570.6 2127.0L1572.0 2133.5L1573.2 2140.0L1574.4 2146.5L1575.5 2153.0L1576.7 2159.4L1577.8 2165.6L1579.0 2172.0L1580.2 2178.5L1581.3 2185.0L1582.5 2191.5L1583.6 2198.0L1584.8 2204.5L1586.0 2211.0L1587.3 2217.5L1588.6 2224.0L1590.0 2230.5L1591.5 2236.9L1593.0 2243.1L1594.5 2249.5L1596.0 2256.1L1597.5 2262.7L1599.0 2269.0L1600.4 2274.4L1601.9 2279.4L1603.5 2285.0L1605.3 2291.6L1607.3 2298.7L1609.5 2306.0L1611.6 2313.2L1613.9 2320.6L1617.0 2328.5L1621.4 2337.8L1626.7 2347.6L1632.0 2356.0L1636.8 2362.1L1641.6 2366.8L1647.0 2371.0L1653.1 2374.9L1659.8 2378.2L1667.0 2381.0L1675.0 2383.1L1683.5 2384.7L1692.0 2386.0L1701.3 2387.3L1710.5 2388.3L1717.0 2389.0L1704.0 2388.5 L1704.0 2394.6 Z" fill="#800080" stroke="#800080" stroke-width="1" stroke-linejoin="round"/>
<path d="M332.5 2865.5C340.4 2865.1 363.8 2863.8 380.0 2863.0C396.2 2862.2 413.3 2861.5 430.0 2860.5C446.7 2859.5 467.5 2858.2 480.0 2857.0C492.5 2855.8 496.7 2854.7 505.0 2853.0C513.3 2851.3 521.7 2849.2 530.0 2847.0C538.3 2844.8 546.7 2842.0 555.0 2839.5C563.3 2837.0 571.7 2834.8 580.0 2832.0C588.3 2829.2 596.7 2825.8 605.0 2823.0C613.3 2820.2 622.5 2817.4 630.0 2815.5C637.5 2813.6 641.7 2812.5 650.0 2811.5C658.3 2810.5 670.8 2810.1 680.0 2809.5C689.2 2808.9 696.7 2808.9 705.0 2808.0C713.3 2807.1 721.7 2805.8 730.0 2804.0C738.3 2802.2 746.7 2800.1 755.0 2797.0C763.3 2793.9 771.7 2789.9 780.0 2785.5C788.3 2781.1 796.7 2776.1 805.0 2770.5C813.3 2764.9 821.7 2758.1 830.0 2752.0C838.3 2745.9 846.7 2739.2 855.0 2734.0C863.3 2728.8 872.5 2723.4 880.0 2720.5C887.5 2717.6 893.3 2717.1 900.0 2716.5C906.7 2715.9 913.3 2715.9 920.0 2717.0C926.7 2718.1 933.3 2720.5 940.0 2723.0C946.7 2725.5 953.3 2729.1 960.0 2732.0C966.7 2734.9 972.5 2738.0 980.0 2740.5C987.5 2743.0 996.7 2745.9 1005.0 2747.0C1013.3 2748.1 1021.7 2748.1 1030.0 2747.0C1038.3 2745.9 1046.7 2743.8 1055.0 2740.5C1063.3 2737.2 1074.2 2730.2 1080.0 2727.0C1085.8 2723.8 1085.3 2724.8 1090.0 2721.5C1094.7 2718.2 1102.1 2712.4 1108.0 2707.0C1113.9 2701.6 1119.6 2695.2 1125.5 2689.0C1131.4 2682.8 1137.6 2675.8 1143.5 2670.0C1149.4 2664.2 1155.7 2658.3 1161.0 2654.0C1166.3 2649.7 1170.8 2646.2 1175.5 2644.0C1180.2 2641.8 1184.8 2641.3 1189.5 2641.0C1194.2 2640.7 1199.2 2640.6 1204.0 2642.0C1208.8 2643.4 1213.2 2646.5 1218.0 2649.5C1222.8 2652.5 1227.2 2654.8 1232.5 2660.0C1237.8 2665.2 1244.1 2672.9 1250.0 2680.5C1255.9 2688.1 1262.1 2696.9 1268.0 2705.5C1273.9 2714.1 1279.6 2723.1 1285.5 2732.0C1291.4 2740.9 1297.5 2750.4 1303.5 2759.0C1309.5 2767.6 1315.6 2775.8 1321.5 2783.5C1327.4 2791.2 1334.8 2799.9 1339.0 2805.0C1343.2 2810.1 1345.7 2812.5 1347.0 2814.0" fill="none" stroke="#ff8306" stroke-width="5.9" stroke-linecap="butt" stroke-linejoin="round"/>
<path d="M1068.3 2842.8L1081.7 2834.7M1103.6 2822.3L1104.5 2821.7L1105.5 2821.0L1106.4 2820.3L1107.3 2819.7L1108.1 2819.0L1108.9 2818.3L1109.7 2817.7L1110.5 2817.0L1111.2 2816.3L1112.0 2815.6L1112.7 2815.0L1113.4 2814.2L1114.1 2813.5L1114.8 2812.8L1115.5 2812.1L1116.2 2811.3L1116.8 2810.6M1130.3 2792.0L1130.9 2791.2L1131.4 2790.4L1131.9 2789.6L1132.4 2788.7L1133.0 2787.9L1133.5 2787.1L1134.0 2786.3L1134.5 2785.5L1135.0 2784.7L1135.5 2783.9L1136.0 2783.1L1136.5 2782.3L1136.9 2781.5L1137.4 2780.7L1137.9 2779.9L1138.3 2779.1L1138.8 2778.4M1148.0 2759.8L1148.4 2759.0L1148.8 2758.2L1149.2 2757.3L1149.6 2756.5L1150.0 2755.6L1150.4 2754.7L1150.8 2753.9L1151.2 2753.0L1151.7 2752.1L1152.1 2751.2L1152.5 2750.3L1152.9 2749.5L1153.3 2748.6L1153.8 2747.6L1154.2 2746.7M1165.0 2722.1L1165.4 2721.2L1165.8 2720.2L1166.2 2719.3L1166.6 2718.3L1167.0 2717.4L1167.4 2716.4L1167.8 2715.5L1168.1 2714.6L1168.5 2713.6L1168.9 2712.7L1169.3 2711.8L1169.7 2710.9L1170.1 2710.0L1170.5 2709.1M1180.1 2685.2L1180.5 2684.2L1180.9 2683.2L1181.3 2682.2L1181.6 2681.1L1182.0 2680.1L1182.4 2679.1L1182.8 2678.0L1183.1 2676.9L1183.5 2675.8L1183.9 2674.7L1184.3 2673.6L1184.6 2672.5L1185.0 2671.3M1195.6 2637.1L1196.0 2636.0L1196.3 2634.8L1196.7 2633.7L1197.0 2632.6L1197.4 2631.6L1197.8 2630.5L1198.1 2629.5L1198.5 2628.4L1198.8 2627.4L1199.1 2626.4L1199.5 2625.5L1199.8 2624.5L1200.2 2623.5M1208.0 2602.5L1208.3 2601.6L1208.6 2600.7L1209.0 2599.9L1209.3 2598.9L1209.6 2598.0L1210.0 2597.1L1210.3 2596.2L1210.7 2595.2L1211.0 2594.2L1211.3 2593.3L1211.7 2592.3L1212.0 2591.3L1212.4 2590.3L1212.7 2589.3L1213.1 2588.3L1213.4 2587.3L1213.8 2586.2L1214.1 2585.2M1222.8 2560.0L1223.2 2559.0L1223.6 2558.0L1224.0 2556.9L1224.3 2555.9L1224.7 2555.0L1225.1 2554.0L1225.5 2553.0L1225.9 2552.0L1226.3 2551.1L1226.7 2550.1L1227.0 2549.2L1227.4 2548.2L1227.8 2547.3L1228.2 2546.3M1237.8 2524.5L1238.2 2523.6L1238.7 2522.8L1239.1 2521.9L1239.6 2521.0L1240.0 2520.2L1240.5 2519.3L1241.0 2518.5L1241.5 2517.6L1242.0 2516.8L1242.5 2515.9L1243.0 2515.0L1243.5 2514.2L1244.0 2513.3L1244.5 2512.4L1245.1 2511.5L1245.6 2510.6L1246.1 2509.7L1246.6 2508.8M1260.2 2489.7L1260.8 2489.0L1261.5 2488.3L1262.2 2487.7L1262.9 2487.0L1263.6 2486.4L1264.3 2485.8L1265.0 2485.3L1265.8 2484.8L1266.5 2484.2L1267.3 2483.7L1268.0 2483.2L1268.8 2482.7L1269.6 2482.2L1270.4 2481.7L1271.3 2481.2L1272.1 2480.8M1292.9 2474.1L1293.8 2474.1L1294.7 2474.1L1295.6 2474.1L1296.5 2474.2L1297.4 2474.3L1298.2 2474.4L1299.1 2474.6L1299.9 2474.8L1300.8 2475.0L1301.6 2475.3L1302.4 2475.6L1303.2 2475.9L1304.1 2476.3L1304.9 2476.8L1305.7 2477.2L1306.6 2477.8L1307.4 2478.3L1308.2 2478.9M1327.1 2498.4L1327.9 2499.3L1328.6 2500.2L1329.3 2501.0L1330.0 2501.9L1330.7 2502.7L1331.3 2503.5L1332.0 2504.2L1332.7 2505.0L1333.3 2505.8L1333.9 2506.5L1334.5 2507.3L1335.1 2508.0L1335.7 2508.7L1336.2 2509.4L1336.8 2510.2M1350.0 2530.6L1350.5 2531.5L1351.2 2532.5L1351.8 2533.5L1352.4 2534.6L1353.1 2535.7L1353.8 2536.8L1354.4 2537.9L1355.2 2539.0L1355.9 2540.2L1356.6 2541.4L1357.4 2542.6M1382.1 2584.2L1382.9 2585.7L1383.8 2587.2L1384.6 2588.6L1385.4 2590.1L1386.2 2591.6L1387.0 2593.0L1387.8 2594.4L1388.6 2595.9L1389.4 2597.4L1390.2 2598.9L1391.0 2600.4L1391.8 2602.0M1413.1 2644.5L1413.8 2645.8L1414.5 2647.1L1415.1 2648.3L1415.8 2649.5L1416.4 2650.6L1417.0 2651.8L1417.6 2652.8L1418.2 2653.9L1418.8 2654.9L1419.3 2655.8L1419.9 2656.8L1420.4 2657.7L1420.9 2658.6L1421.4 2659.4M1431.9 2675.2L1432.4 2675.8L1432.8 2676.4L1433.3 2677.1L1433.8 2677.7L1434.3 2678.4L1434.7 2679.1L1435.2 2679.8L1435.8 2680.5L1436.3 2681.2L1436.8 2682.0L1437.3 2682.7L1437.8 2683.5L1438.3 2684.2L1438.9 2685.0L1439.4 2685.7M1453.8 2705.5L1454.4 2706.2L1455.1 2706.9L1455.7 2707.6L1456.3 2708.4L1457.0 2709.1L1457.6 2709.8L1458.2 2710.5L1458.9 2711.2L1459.6 2711.9L1460.3 2712.6L1460.9 2713.3L1461.6 2714.0L1462.3 2714.7L1463.0 2715.4M1482.8 2732.5L1483.5 2733.1L1484.3 2733.7L1485.1 2734.3L1485.9 2735.0L1486.7 2735.6L1487.5 2736.2L1488.2 2736.8L1489.0 2737.3L1489.8 2737.9L1490.6 2738.5L1491.4 2739.1L1492.2 2739.7L1493.0 2740.3L1493.7 2740.9M1514.8 2754.8L1515.6 2755.3L1516.5 2755.7L1517.3 2756.2L1518.2 2756.7L1519.0 2757.1L1519.9 2757.6L1520.8 2758.0L1521.6 2758.4L1522.4 2758.8L1523.3 2759.3L1524.1 2759.7L1524.9 2760.0L1525.8 2760.4L1526.6 2760.8M1550.2 2769.4L1551.3 2769.8L1552.4 2770.2L1553.5 2770.5L1554.6 2770.9L1555.8 2771.3L1557.0 2771.8L1558.2 2772.2L1559.5 2772.6L1560.7 2773.0L1562.0 2773.5L1563.4 2773.9M1607.8 2788.5L1609.3 2789.1L1610.9 2789.6L1612.4 2790.1L1614.0 2790.7L1615.5 2791.2L1617.0 2791.8L1618.5 2792.3L1620.0 2792.9L1621.5 2793.4L1623.1 2794.0L1624.6 2794.6L1626.2 2795.2M1668.9 2812.1L1670.3 2812.6L1671.7 2813.1L1673.1 2813.6L1674.4 2814.1L1675.7 2814.6L1677.0 2815.0L1678.3 2815.4L1679.5 2815.8L1680.8 2816.2L1682.0 2816.6L1683.2 2817.0L1684.3 2817.4L1685.5 2817.7M1712.4 2824.7L1713.4 2824.9L1714.4 2825.1L1715.4 2825.3L1716.4 2825.6L1717.5 2825.8L1718.5 2826.0L1719.5 2826.2L1720.5 2826.5L1721.6 2826.7L1722.6 2826.9L1723.6 2827.1L1724.6 2827.3L1725.6 2827.5L1726.6 2827.7M1750.5 2831.9L1751.5 2832.1L1752.5 2832.3L1753.5 2832.5L1754.5 2832.7L1755.5 2832.9L1756.5 2833.1L1757.5 2833.3L1758.5 2833.5L1759.5 2833.8L1760.5 2834.0L1761.5 2834.2L1762.5 2834.4L1763.5 2834.7L1764.4 2834.9L1765.4 2835.2L1766.4 2835.4L1767.3 2835.7L1768.3 2835.9M1790.9 2842.2L1791.9 2842.4L1793.0 2842.7L1794.0 2843.0L1795.1 2843.2L1796.2 2843.5L1797.3 2843.7L1798.4 2844.0L1799.5 2844.2L1800.6 2844.5L1801.8 2844.7L1802.9 2845.0L1804.1 2845.3L1805.3 2845.5L1806.5 2845.8L1807.7 2846.0M1839.7 2852.1L1840.9 2852.3L1842.2 2852.5L1843.4 2852.7L1844.7 2852.8L1845.9 2853.0L1847.1 2853.2L1848.3 2853.3L1849.5 2853.5L1850.7 2853.7L1851.9 2853.8L1853.2 2853.9L1854.4 2854.1L1855.7 2854.2L1857.0 2854.3L1858.2 2854.4L1859.5 2854.5M1887.5 2856.1L1901.5 2856.9" fill="none" stroke="#ff8306" stroke-width="5.2"/>
<path d="M1276.0 2868.8L1276.0 2866.5L1282.4 2866.1L1291.4 2865.4L1300.0 2864.5L1307.2 2863.4L1313.9 2862.0L1319.5 2860.0L1323.4 2857.3L1326.0 2853.9L1328.5 2849.5L1331.0 2843.9L1333.4 2837.2L1335.5 2830.0L1337.5 2822.4L1339.3 2814.2L1341.0 2805.0L1342.6 2795.0L1344.2 2784.1L1346.0 2771.0L1348.2 2754.2L1350.5 2735.3L1352.5 2718.0L1353.8 2703.9L1354.6 2691.4L1355.5 2679.5L1356.5 2668.4L1357.4 2658.1L1358.5 2647.0L1359.8 2634.6L1361.2 2621.6L1362.5 2608.5L1363.7 2595.3L1364.8 2582.0L1366.0 2569.5L1367.5 2558.1L1369.0 2547.5L1370.5 2537.5L1371.7 2528.4L1372.8 2519.9L1374.0 2511.5L1375.2 2502.3L1376.5 2493.1L1378.0 2486.0L1379.7 2482.4L1381.6 2480.9L1383.5 2479.5L1385.2 2476.8L1386.9 2474.1L1388.5 2473.5L1390.0 2476.4L1391.5 2481.3L1393.0 2486.0L1394.5 2489.1L1396.0 2491.9L1397.5 2496.0L1398.9 2502.5L1400.2 2510.4L1401.5 2518.0L1402.6 2524.4L1403.7 2530.6L1405.0 2537.5L1406.7 2545.7L1408.7 2554.6L1410.5 2563.5L1412.1 2572.0L1413.6 2580.5L1415.0 2589.0L1416.4 2597.6L1417.6 2606.3L1419.0 2615.0L1420.5 2623.8L1422.1 2632.6L1423.5 2641.0L1424.7 2648.7L1425.7 2656.0L1427.0 2664.0L1428.7 2673.4L1430.6 2683.5L1432.5 2692.5L1434.2 2699.7L1435.9 2705.9L1437.5 2712.0L1439.2 2718.4L1440.9 2724.6L1442.5 2731.0L1444.1 2737.8L1445.6 2744.7L1447.0 2750.5L1448.1 2754.2L1449.2 2756.7L1450.5 2760.0L1452.2 2764.7L1454.1 2770.1L1456.5 2776.0L1459.5 2782.7L1462.9 2789.8L1466.5 2796.5L1470.3 2802.3L1474.4 2807.7L1478.5 2812.5L1482.6 2816.9L1486.9 2820.8L1491.0 2824.0L1495.0 2826.3L1499.0 2827.8L1503.0 2829.0L1506.9 2830.0L1510.8 2830.7L1515.0 2831.0L1519.7 2831.1L1524.8 2830.8L1529.5 2830.0L1533.7 2828.5L1537.6 2826.4L1541.5 2824.0L1545.6 2821.2L1549.9 2818.0L1554.0 2814.5L1558.1 2810.8L1562.2 2806.8L1566.0 2802.5L1569.7 2797.9L1573.1 2793.0L1576.0 2788.0L1577.8 2782.6L1578.9 2777.1L1580.5 2772.0L1582.9 2767.9L1585.7 2764.3L1588.5 2760.0L1591.2 2754.1L1594.0 2747.4L1596.5 2741.5L1598.6 2737.3L1600.5 2733.9L1602.5 2729.5L1604.6 2723.4L1606.9 2716.4L1609.0 2709.0L1611.0 2700.5L1612.9 2691.6L1615.0 2684.5L1617.7 2680.6L1620.6 2678.6L1623.0 2676.5L1624.6 2673.5L1625.7 2670.5L1627.0 2668.5L1628.7 2668.0L1630.4 2668.5L1632.0 2669.5L1633.1 2671.2L1634.0 2673.4L1635.0 2674.5L1636.4 2673.3L1637.9 2671.0L1639.5 2669.5L1641.1 2669.1L1642.8 2669.5L1644.5 2671.5L1646.1 2676.1L1647.6 2682.3L1649.5 2688.5L1652.0 2694.0L1654.9 2699.4L1657.5 2705.0L1659.6 2710.8L1661.5 2716.8L1663.5 2723.0L1665.6 2729.6L1667.9 2736.4L1670.0 2743.5L1672.0 2750.9L1674.0 2758.6L1676.0 2766.0L1677.9 2772.8L1679.9 2779.4L1682.0 2786.0L1684.5 2792.9L1687.3 2799.8L1690.0 2806.5L1692.6 2813.0L1695.3 2819.2L1698.0 2825.0L1700.7 2830.1L1703.5 2834.7L1706.5 2839.0L1709.6 2843.2L1713.0 2847.1L1716.5 2850.5L1720.2 2853.2L1724.1 2855.5L1728.5 2857.5L1733.6 2859.4L1739.3 2861.1L1745.0 2862.5L1750.5 2863.4L1756.1 2863.9L1762.0 2864.5L1769.2 2865.2L1776.7 2866.0L1782.0 2866.5L1782.0 2864.0 L1782.0 2868.8 Z" fill="#ff8306" stroke="#ff8306" stroke-width="1" stroke-linejoin="round"/>
<text transform="translate(311.3,521.6) scale(0.927,1)" font-family="'Liberation Sans', Arial, sans-serif" font-size="76.8" fill="#000" text-anchor="end">0.0</text>
<text transform="translate(311.3,332.4) scale(0.927,1)" font-family="'Liberation Sans', Arial, sans-serif" font-size="76.8" fill="#000" text-anchor="end">0.4</text>
<text transform="translate(311.3,143.2) scale(0.927,1)" font-family="'Liberation Sans', Arial, sans-serif" font-size="76.8" fill="#000" text-anchor="end">0.8</text>
<text transform="translate(311.3,995.3) scale(0.927,1)" font-family="'Liberation Sans', Arial, sans-serif" font-size="76.8" fill="#000" text-anchor="end">0.0</text>
<text transform="translate(311.3,806.1) scale(0.927,1)" font-family="'Liberation Sans', Arial, sans-serif" font-size="76.8" fill="#000" text-anchor="end">0.4</text>
<text transform="translate(311.3,616.9) scale(0.927,1)" font-family="'Liberation Sans', Arial, sans-serif" font-size="76.8" fill="#000" text-anchor="end">0.8</text>
<text transform="translate(311.3,1464.3) scale(0.927,1)" font-family="'Liberation Sans', Arial, sans-serif" font-size="76.8" fill="#000" text-anchor="end">0.0</text>
<text transform="translate(311.3,1275.1) scale(0.927,1)" font-family="'Liberation Sans', Arial, sans-serif" font-size="76.8" fill="#000" text-anchor="end">0.4</text>
<text transform="translate(311.3,1085.9) scale(0.927,1)" font-family="'Liberation Sans', Arial, sans-serif" font-size="76.8" fill="#000" text-anchor="end">0.8</text>
<text transform="translate(311.3,1938.6) scale(0.927,1)" font-family="'Liberation Sans', Arial, sans-serif" font-size="76.8" fill="#000" text-anchor="end">0.0</text>
<text transform="translate(311.3,1749.4) scale(0.927,1)" font-family="'Liberation Sans', Arial, sans-serif" font-size="76.8" fill="#000" text-anchor="end">0.4</text>
<text transform="translate(311.3,1560.2) scale(0.927,1)" font-family="'Liberation Sans', Arial, sans-serif" font-size="76.8" fill="#000" text-anchor="end">0.8</text>
<text transform="translate(311.3,2412.8) scale(0.927,1)" font-family="'Liberation Sans', Arial, sans-serif" font-size="76.8" fill="#000" text-anchor="end">0.0</text>
<text transform="translate(311.3,2223.6) scale(0.927,1)" font-family="'Liberation Sans', Arial, sans-serif" font-size="76.8" fill="#000" text-anchor="end">0.4</text>
<text transform="translate(311.3,2034.4) scale(0.927,1)" font-family="'Liberation Sans', Arial, sans-serif" font-size="76.8" fill="#000" text-anchor="end">0.8</text>
<text transform="translate(311.3,2886.8) scale(0.927,1)" font-family="'Liberation Sans', Arial, sans-serif" font-size="76.8" fill="#000" text-anchor="end">0.0</text>
<text transform="translate(311.3,2697.6) scale(0.927,1)" font-family="'Liberation Sans', Arial, sans-serif" font-size="76.8" fill="#000" text-anchor="end">0.4</text>
<text transform="translate(311.3,2508.4) scale(0.927,1)" font-family="'Liberation Sans', Arial, sans-serif" font-size="76.8" fill="#000" text-anchor="end">0.8</text>
<text transform="translate(367.3,2939.8) scale(0.945,1)" font-family="'Liberation Sans', Arial, sans-serif" font-size="75.4" fill="#000" text-anchor="middle">450</text>
<text transform="translate(715.6,2939.8) scale(0.945,1)" font-family="'Liberation Sans', Arial, sans-serif" font-size="75.4" fill="#000" text-anchor="middle">500</text>
<text transform="translate(1063.9,2939.8) scale(0.945,1)" font-family="'Liberation Sans', Arial, sans-serif" font-size="75.4" fill="#000" text-anchor="middle">550</text>
<text transform="translate(1412.2,2939.8) scale(0.945,1)" font-family="'Liberation Sans', Arial, sans-serif" font-size="75.4" fill="#000" text-anchor="middle">600</text>
<text transform="translate(1760.5,2939.8) scale(0.945,1)" font-family="'Liberation Sans', Arial, sans-serif" font-size="75.4" fill="#000" text-anchor="middle">650</text>
<text transform="translate(367.2,120.1) scale(0.947,1)" font-family="'Liberation Sans', Arial, sans-serif" font-size="75.0" font-weight="bold" stroke="#000000" stroke-width="0.7" stroke-linejoin="miter" fill="#000000" text-anchor="start">PDI 6</text>
<text transform="translate(1472.0,115.9) scale(0.961,1)" font-family="'Liberation Sans', Arial, sans-serif" font-size="68.0" fill="#000000" text-anchor="start">596.7 nm</text>
<text transform="translate(371.0,592.5) scale(0.982,1)" font-family="'Liberation Sans', Arial, sans-serif" font-size="71.5" stroke="#0000ff" stroke-width="3.1" stroke-linejoin="miter" fill="#0000ff" text-anchor="start">PDI 7</text>
<text transform="translate(1513.0,597.9) scale(0.961,1)" font-family="'Liberation Sans', Arial, sans-serif" font-size="68.0" fill="#0000ff" text-anchor="start">606.3 nm</text>
<text transform="translate(367.6,1069.8) scale(0.982,1)" font-family="'Liberation Sans', Arial, sans-serif" font-size="71.5" stroke="#ff007f" stroke-width="3.1" stroke-linejoin="miter" fill="#ff007f" text-anchor="start">PDI 8</text>
<text transform="translate(1482.0,1079.9) scale(0.961,1)" font-family="'Liberation Sans', Arial, sans-serif" font-size="68.0" fill="#ff007f" text-anchor="start">599.8 nm</text>
<text transform="translate(370.7,1540.1) scale(0.982,1)" font-family="'Liberation Sans', Arial, sans-serif" font-size="71.5" stroke="#6aa311" stroke-width="3.1" stroke-linejoin="miter" fill="#6aa311" text-anchor="start">PDI 9</text>
<text transform="translate(1516.0,1556.9) scale(0.961,1)" font-family="'Liberation Sans', Arial, sans-serif" font-size="68.0" fill="#6aa311" text-anchor="start">604.7 nm</text>
<text transform="translate(370.8,2014.6) scale(0.982,1)" font-family="'Liberation Sans', Arial, sans-serif" font-size="71.5" stroke="#800080" stroke-width="3.1" stroke-linejoin="miter" fill="#800080" text-anchor="start">PDI 10</text>
<text transform="translate(1593.0,2023.9) scale(0.961,1)" font-family="'Liberation Sans', Arial, sans-serif" font-size="68.0" fill="#800080" text-anchor="start">616.8 nm</text>
<text transform="translate(368.3,2485.5) scale(0.982,1)" font-family="'Liberation Sans', Arial, sans-serif" font-size="71.5" stroke="#ff8306" stroke-width="3.1" stroke-linejoin="miter" fill="#ff8306" text-anchor="start">PDI 11</text>
<text transform="translate(1438.0,2493.4) scale(0.961,1)" font-family="'Liberation Sans', Arial, sans-serif" font-size="68.0" fill="#ff8306" text-anchor="start">596.9 nm</text>
<text transform="translate(1558.0,2633.4) scale(0.961,1)" font-family="'Liberation Sans', Arial, sans-serif" font-size="68.0" fill="#ff8306" text-anchor="start">631.8 nm</text>
<text transform="translate(1002.7,3079.2) scale(1.21,1)" font-family="'Liberation Serif', 'Times New Roman', serif" font-style="italic" font-size="79" fill="#000">λ</text>
<text x="1063.7" y="3079.2" font-family="'Liberation Sans', Arial, sans-serif" font-size="88" fill="#000">(nm)</text>
<text transform="translate(110.2,1713.2) rotate(-90) scale(1.070,1)" font-family="'Liberation Serif', 'Times New Roman', serif" font-size="92.0" font-style="italic" fill="#000">α</text>
<text transform="translate(110.2,1620.8) rotate(-90) scale(1.000,1)" font-family="'Liberation Sans', Arial, sans-serif" font-size="80.0"  fill="#000">(</text>
<text transform="translate(100.5,1587.8) rotate(-90) scale(1.000,1)" font-family="'Liberation Sans', Arial, sans-serif" font-size="79.0" font-weight="bold" fill="#000">×</text>
<text transform="translate(110.2,1534.3) rotate(-90) scale(0.953,1)" font-family="'Liberation Sans', Arial, sans-serif" font-size="96.0"  fill="#000">10</text>
<text transform="translate(71.5,1432.6) rotate(-90) scale(1.000,1)" font-family="'Liberation Sans', Arial, sans-serif" font-size="73.0"  fill="#000">3</text>
<text transform="translate(110.2,1365.7) rotate(-90) scale(0.992,1)" font-family="'Liberation Sans', Arial, sans-serif" font-size="96.0"  fill="#000">cm</text>
<text transform="translate(77.5,1240.5) rotate(-90) scale(1.000,1)" font-family="'Liberation Sans', Arial, sans-serif" font-size="68.0"  fill="#000">−</text>
<text transform="translate(71.5,1199.0) rotate(-90) scale(1.000,1)" font-family="'Liberation Sans', Arial, sans-serif" font-size="73.0"  fill="#000">1</text>
<text transform="translate(110.2,1158.3) rotate(-90) scale(1.000,1)" font-family="'Liberation Sans', Arial, sans-serif" font-size="80.0"  fill="#000">)</text>
<text transform="translate(2065.0,1751.5) rotate(-90) scale(1.000,1)" font-family="'Liberation Serif', 'Times New Roman', serif" font-size="100.0" font-style="italic" fill="#000">I</text>
<text transform="translate(2092.5,1718.8) rotate(-90) scale(1.000,1)" font-family="'Liberation Serif', 'Times New Roman', serif" font-size="70.0"  fill="#000">out</text>
<text transform="translate(2065.0,1609.3) rotate(-90) scale(1.000,1)" font-family="'Liberation Sans', Arial, sans-serif" font-size="96.0"  fill="#000">(</text>
<text transform="translate(2065.0,1574.3) rotate(-90) scale(1.000,1)" font-family="'Liberation Sans', Arial, sans-serif" font-size="96.0"  fill="#000">Arb.</text>
<text transform="translate(2065.0,1377.0) rotate(-90) scale(1.000,1)" font-family="'Liberation Sans', Arial, sans-serif" font-size="96.0"  fill="#000">units</text>
<text transform="translate(2065.0,1168.2) rotate(-90) scale(1.000,1)" font-family="'Liberation Sans', Arial, sans-serif" font-size="96.0"  fill="#000">)</text>
</svg>
</body></html>
